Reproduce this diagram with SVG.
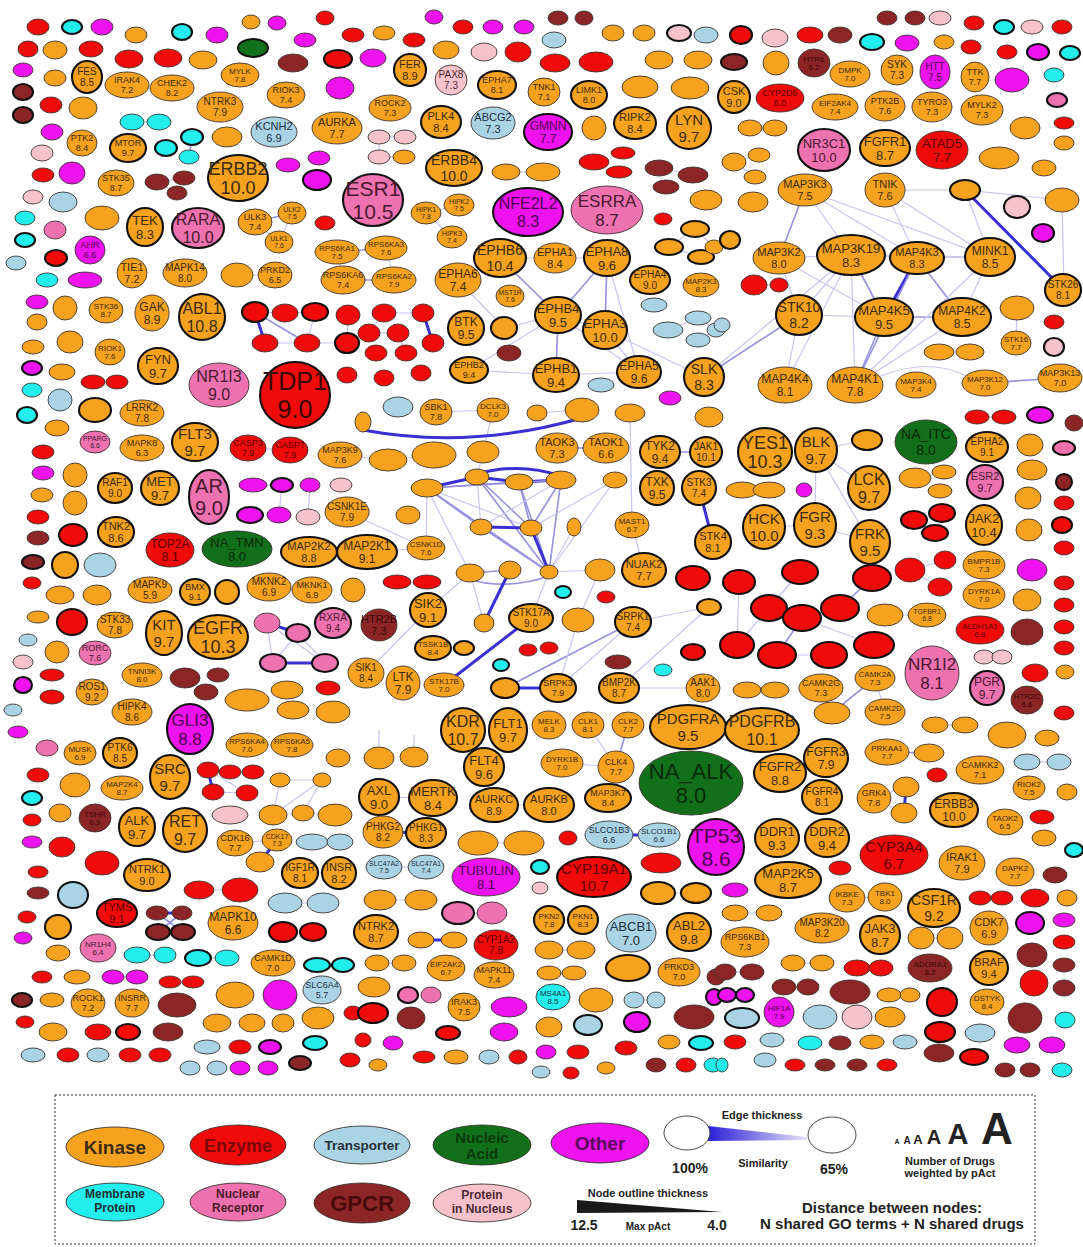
<svg xmlns="http://www.w3.org/2000/svg" width="1083" height="1247" viewBox="0 0 1083 1247">
<defs>
<style>
ellipse{stroke:#3a3530;stroke-width:0.9}
.b{stroke:#111;stroke-width:2.1}
.k{fill:#F6A21E}.e{fill:#F00A0A}.t{fill:#ABD3E6}.n{fill:#13701A}.o{fill:#EE12EE}.m{fill:#22EEEE}.r{fill:#EE72B0}.g{fill:#8C2626}.p{fill:#F7C2CC}
text{font-family:"Liberation Sans",Arial,sans-serif;text-anchor:middle;fill:#3a2c12}
.w{fill:#5a0000}.v{fill:#500050}.q{fill:#062a06}.u{fill:#4a1830}.x{fill:#1e3040}.y{fill:#3a0808}.z{fill:#4a2a30}
.c1{stroke:#c8c5ef;stroke-width:1.2;fill:none}
.c2{stroke:#9894e0;stroke-width:1.7;fill:none}
.c3{stroke:#3a2fd2;stroke-width:3;fill:none}
.lg{font-weight:bold}
</style>
<linearGradient id="eg" x1="0" y1="0" x2="1" y2="0">
<stop offset="0" stop-color="#2a1fd8"/><stop offset="1" stop-color="#e6e2f7"/>
</linearGradient>
</defs>
<rect width="1083" height="1247" fill="#ffffff"/>
<g id="connectors">
<line class="c2" x1="500" y1="258" x2="558" y2="315"/>
<line class="c2" x1="607" y1="258" x2="558" y2="315"/>
<line class="c2" x1="607" y1="258" x2="605" y2="330"/>
<line class="c1" x1="607" y1="258" x2="639" y2="372"/>
<line class="c1" x1="500" y1="258" x2="458" y2="280"/>
<line class="c1" x1="555" y1="258" x2="607" y2="258"/>
<line class="c1" x1="500" y1="258" x2="555" y2="258"/>
<line class="c2" x1="558" y1="315" x2="556" y2="375"/>
<line class="c1" x1="558" y1="315" x2="605" y2="330"/>
<line class="c1" x1="558" y1="315" x2="639" y2="372"/>
<line class="c1" x1="558" y1="315" x2="469" y2="370"/>
<line class="c1" x1="558" y1="315" x2="504" y2="328"/>
<line class="c1" x1="556" y1="375" x2="469" y2="370"/>
<line class="c1" x1="556" y1="375" x2="639" y2="372"/>
<line class="c1" x1="458" y1="280" x2="504" y2="328"/>
<line class="c1" x1="605" y1="330" x2="639" y2="372"/>
<line class="c1" x1="605" y1="330" x2="704" y2="377"/>
<line class="c2" x1="805" y1="190" x2="779" y2="258"/>
<line class="c1" x1="805" y1="190" x2="851" y2="255"/>
<line class="c1" x1="805" y1="190" x2="917" y2="258"/>
<line class="c1" x1="805" y1="190" x2="990" y2="257"/>
<line class="c1" x1="885" y1="190" x2="990" y2="257"/>
<line class="c1" x1="885" y1="190" x2="965" y2="190"/>
<line class="c1" x1="885" y1="190" x2="917" y2="258"/>
<line class="c3" x1="965" y1="190" x2="1064" y2="290"/>
<line class="c1" x1="965" y1="190" x2="1062" y2="200"/>
<line class="c1" x1="1062" y1="200" x2="1064" y2="290"/>
<line class="c1" x1="965" y1="190" x2="990" y2="257"/>
<line class="c1" x1="779" y1="258" x2="851" y2="255"/>
<line class="c1" x1="851" y1="255" x2="917" y2="258"/>
<line class="c1" x1="917" y1="258" x2="990" y2="257"/>
<line class="c1" x1="779" y1="258" x2="884" y2="317"/>
<line class="c2" x1="851" y1="255" x2="884" y2="317"/>
<line class="c3" x1="917" y1="258" x2="884" y2="317"/>
<line class="c2" x1="917" y1="258" x2="962" y2="317"/>
<line class="c2" x1="884" y1="317" x2="962" y2="317"/>
<line class="c1" x1="851" y1="255" x2="799" y2="315"/>
<line class="c1" x1="851" y1="255" x2="855" y2="385"/>
<line class="c1" x1="851" y1="255" x2="785" y2="385"/>
<line class="c1" x1="799" y1="315" x2="884" y2="317"/>
<line class="c2" x1="799" y1="315" x2="704" y2="377"/>
<line class="c1" x1="851" y1="255" x2="704" y2="377"/>
<line class="c1" x1="799" y1="315" x2="785" y2="385"/>
<line class="c2" x1="884" y1="317" x2="855" y2="385"/>
<line class="c2" x1="917" y1="258" x2="855" y2="385"/>
<line class="c1" x1="962" y1="317" x2="855" y2="385"/>
<line class="c1" x1="990" y1="257" x2="962" y2="317"/>
<line class="c1" x1="990" y1="257" x2="855" y2="385"/>
<line class="c1" x1="779" y1="258" x2="799" y2="315"/>
<line class="c1" x1="851" y1="255" x2="990" y2="257"/>
<path class="c1" d="M878,377 Q930,356 968,377"/>
<line class="c2" x1="985" y1="383" x2="1060" y2="378"/>
<line class="c1" x1="816" y1="450" x2="815" y2="525"/>
<line class="c1" x1="816" y1="450" x2="870" y2="542"/>
<line class="c1" x1="816" y1="450" x2="869" y2="488"/>
<line class="c1" x1="816" y1="450" x2="867" y2="440"/>
<line class="c1" x1="764" y1="527" x2="815" y2="525"/>
<line class="c1" x1="815" y1="525" x2="870" y2="542"/>
<line class="c1" x1="739" y1="582" x2="737" y2="645"/>
<line class="c1" x1="800" y1="572" x2="769" y2="608"/>
<line class="c1" x1="800" y1="572" x2="737" y2="645"/>
<line class="c1" x1="769" y1="608" x2="802" y2="618"/>
<line class="c2" x1="802" y1="618" x2="777" y2="655"/>
<line class="c2" x1="872" y1="578" x2="840" y2="608"/>
<line class="c1" x1="802" y1="618" x2="874" y2="645"/>
<line class="c1" x1="777" y1="655" x2="829" y2="655"/>
<line class="c1" x1="802" y1="618" x2="840" y2="608"/>
<line class="c1" x1="910" y1="570" x2="945" y2="560"/>
<line class="c1" x1="910" y1="570" x2="940" y2="587"/>
<line class="c1" x1="977" y1="417" x2="1004" y2="417"/>
<line class="c2" x1="875" y1="678" x2="832" y2="713"/>
<line class="c1" x1="821" y1="688" x2="832" y2="713"/>
<line class="c1" x1="875" y1="678" x2="885" y2="712"/>
<line class="c1" x1="747" y1="690" x2="775" y2="690"/>
<line class="c1" x1="742" y1="490" x2="769" y2="490"/>
<line class="c1" x1="885" y1="615" x2="927" y2="615"/>
<line class="c1" x1="984" y1="657" x2="1002" y2="657"/>
<line class="c3" x1="427" y1="488" x2="477" y2="477"/>
<line class="c3" x1="477" y1="477" x2="519" y2="482"/>
<line class="c3" x1="519" y1="482" x2="561" y2="480"/>
<path class="c3" d="M477,474 Q520,462 561,476"/>
<line class="c2" x1="427" y1="488" x2="561" y2="480"/>
<line class="c2" x1="427" y1="488" x2="519" y2="482"/>
<line class="c2" x1="427" y1="488" x2="481" y2="527"/>
<line class="c1" x1="427" y1="488" x2="531" y2="528"/>
<line class="c2" x1="427" y1="488" x2="549" y2="572"/>
<line class="c1" x1="477" y1="477" x2="481" y2="527"/>
<line class="c2" x1="477" y1="477" x2="531" y2="528"/>
<line class="c2" x1="477" y1="477" x2="549" y2="572"/>
<line class="c2" x1="519" y1="482" x2="531" y2="528"/>
<line class="c2" x1="519" y1="482" x2="549" y2="572"/>
<line class="c2" x1="561" y1="480" x2="531" y2="528"/>
<line class="c2" x1="561" y1="480" x2="549" y2="572"/>
<line class="c1" x1="561" y1="480" x2="481" y2="527"/>
<line class="c3" x1="481" y1="527" x2="531" y2="528"/>
<line class="c2" x1="481" y1="527" x2="549" y2="572"/>
<line class="c3" x1="531" y1="528" x2="549" y2="572"/>
<line class="c1" x1="574" y1="527" x2="549" y2="572"/>
<line class="c1" x1="615" y1="480" x2="531" y2="528"/>
<line class="c1" x1="615" y1="480" x2="549" y2="572"/>
<line class="c2" x1="470" y1="573" x2="510" y2="570"/>
<path class="c2" d="M470,580 Q510,590 549,576"/>
<line class="c1" x1="470" y1="573" x2="484" y2="623"/>
<line class="c3" x1="510" y1="570" x2="484" y2="623"/>
<line class="c1" x1="427" y1="488" x2="426" y2="548"/>
<line class="c1" x1="427" y1="488" x2="470" y2="573"/>
<line class="c1" x1="549" y1="572" x2="600" y2="570"/>
<line class="c1" x1="549" y1="572" x2="531" y2="618"/>
<line class="c1" x1="477" y1="477" x2="493" y2="410"/>
<path class="c3" d="M363,430 Q470,450 582,418"/>
<line class="c1" x1="436" y1="412" x2="493" y2="410"/>
<line class="c1" x1="537" y1="413" x2="582" y2="410"/>
<line class="c2" x1="557" y1="448" x2="606" y2="448"/>
<line class="c2" x1="660" y1="452" x2="706" y2="452"/>
<line class="c3" x1="699" y1="488" x2="713" y2="542"/>
<line class="c1" x1="388" y1="460" x2="434" y2="455"/>
<line class="c1" x1="340" y1="455" x2="388" y2="460"/>
<line class="c1" x1="347" y1="512" x2="426" y2="548"/>
<line class="c1" x1="632" y1="525" x2="644" y2="570"/>
<line class="c1" x1="630" y1="413" x2="632" y2="525"/>
<line class="c3" x1="531" y1="618" x2="444" y2="685"/>
<line class="c2" x1="633" y1="622" x2="505" y2="688"/>
<line class="c1" x1="633" y1="622" x2="558" y2="688"/>
<line class="c3" x1="505" y1="688" x2="558" y2="688"/>
<line class="c1" x1="578" y1="620" x2="558" y2="688"/>
<line class="c1" x1="428" y1="610" x2="366" y2="673"/>
<line class="c1" x1="428" y1="610" x2="470" y2="573"/>
<line class="c1" x1="433" y1="648" x2="464" y2="648"/>
<line class="c1" x1="619" y1="688" x2="703" y2="688"/>
<line class="c1" x1="633" y1="622" x2="709" y2="607"/>
<line class="c1" x1="619" y1="688" x2="709" y2="607"/>
<line class="c1" x1="600" y1="570" x2="578" y2="620"/>
<line class="c1" x1="367" y1="552" x2="426" y2="548"/>
<line class="c1" x1="367" y1="552" x2="309" y2="552"/>
<line class="c1" x1="255" y1="312" x2="285" y2="313"/>
<line class="c3" x1="255" y1="312" x2="265" y2="343"/>
<line class="c2" x1="255" y1="312" x2="307" y2="343"/>
<line class="c1" x1="265" y1="343" x2="307" y2="343"/>
<line class="c1" x1="285" y1="313" x2="315" y2="312"/>
<line class="c1" x1="307" y1="343" x2="347" y2="343"/>
<line class="c1" x1="315" y1="312" x2="307" y2="343"/>
<line class="c1" x1="348" y1="315" x2="347" y2="343"/>
<line class="c3" x1="423" y1="313" x2="433" y2="343"/>
<line class="c1" x1="384" y1="313" x2="423" y2="313"/>
<line class="c1" x1="369" y1="333" x2="398" y2="333"/>
<line class="c1" x1="398" y1="333" x2="406" y2="353"/>
<line class="c1" x1="384" y1="313" x2="369" y2="333"/>
<line class="c2" x1="255" y1="222" x2="292" y2="213"/>
<line class="c1" x1="255" y1="222" x2="279" y2="242"/>
<line class="c1" x1="292" y1="213" x2="279" y2="242"/>
<line class="c2" x1="337" y1="252" x2="386" y2="248"/>
<line class="c1" x1="337" y1="252" x2="343" y2="280"/>
<line class="c1" x1="386" y1="248" x2="394" y2="280"/>
<line class="c2" x1="343" y1="280" x2="394" y2="280"/>
<line class="c1" x1="237" y1="275" x2="275" y2="275"/>
<line class="c3" x1="267" y1="623" x2="298" y2="633"/>
<line class="c1" x1="267" y1="623" x2="273" y2="663"/>
<line class="c3" x1="273" y1="663" x2="325" y2="663"/>
<line class="c1" x1="298" y1="633" x2="325" y2="663"/>
<line class="c1" x1="298" y1="633" x2="273" y2="663"/>
<line class="c1" x1="267" y1="623" x2="325" y2="663"/>
<line class="c1" x1="253" y1="485" x2="282" y2="485"/>
<line class="c1" x1="282" y1="485" x2="279" y2="515"/>
<line class="c1" x1="310" y1="485" x2="308" y2="517"/>
<line class="c1" x1="157" y1="182" x2="184" y2="178"/>
<line class="c1" x1="157" y1="182" x2="177" y2="193"/>
<line class="c2" x1="192" y1="137" x2="189" y2="157"/>
<line class="c1" x1="132" y1="122" x2="159" y2="122"/>
<line class="c3" x1="208" y1="770" x2="213" y2="792"/>
<line class="c1" x1="208" y1="770" x2="247" y2="793"/>
<line class="c1" x1="213" y1="792" x2="247" y2="793"/>
<line class="c1" x1="230" y1="772" x2="253" y2="772"/>
<line class="c1" x1="280" y1="780" x2="322" y2="780"/>
<line class="c1" x1="280" y1="780" x2="273" y2="815"/>
<line class="c1" x1="322" y1="780" x2="273" y2="815"/>
<line class="c1" x1="303" y1="813" x2="322" y2="780"/>
<line class="c1" x1="273" y1="815" x2="303" y2="813"/>
<line class="c1" x1="303" y1="813" x2="335" y2="815"/>
<line class="c1" x1="235" y1="843" x2="277" y2="840"/>
<line class="c3" x1="277" y1="840" x2="260" y2="862"/>
<line class="c3" x1="157" y1="913" x2="182" y2="913"/>
<line class="c1" x1="158" y1="932" x2="183" y2="932"/>
<line class="c2" x1="157" y1="913" x2="183" y2="932"/>
<line class="c2" x1="182" y1="913" x2="158" y2="932"/>
<line class="c1" x1="269" y1="587" x2="312" y2="590"/>
<line class="c1" x1="300" y1="873" x2="339" y2="873"/>
<line class="c1" x1="248" y1="448" x2="290" y2="450"/>
<line class="c3" x1="609" y1="835" x2="659" y2="835"/>
<line class="c1" x1="826" y1="758" x2="822" y2="797"/>
<line class="c1" x1="874" y1="798" x2="906" y2="787"/>
<line class="c1" x1="874" y1="798" x2="904" y2="813"/>
<line class="c3" x1="906" y1="787" x2="904" y2="813"/>
<line class="c2" x1="887" y1="752" x2="929" y2="753"/>
<line class="c1" x1="847" y1="898" x2="885" y2="897"/>
<line class="c1" x1="426" y1="213" x2="459" y2="205"/>
<line class="c1" x1="426" y1="213" x2="452" y2="237"/>
<line class="c2" x1="628" y1="725" x2="616" y2="767"/>
<line class="c1" x1="588" y1="725" x2="616" y2="767"/>
<line class="c1" x1="562" y1="763" x2="616" y2="767"/>
<line class="c1" x1="494" y1="805" x2="549" y2="805"/>
<line class="c3" x1="383" y1="832" x2="426" y2="833"/>
<line class="c1" x1="379" y1="797" x2="433" y2="798"/>
<line class="c1" x1="384" y1="867" x2="426" y2="867"/>
<line class="c1" x1="478" y1="843" x2="524" y2="843"/>
<line class="c1" x1="549" y1="920" x2="583" y2="920"/>
<line class="c1" x1="380" y1="900" x2="421" y2="900"/>
<line class="c1" x1="458" y1="913" x2="492" y2="913"/>
<line class="c1" x1="658" y1="893" x2="696" y2="893"/>
<line class="c3" x1="421" y1="940" x2="454" y2="940"/>
<line class="c1" x1="549" y1="950" x2="581" y2="950"/>
<line class="c1" x1="377" y1="963" x2="404" y2="963"/>
<line class="c1" x1="549" y1="973" x2="574" y2="973"/>
<line class="c1" x1="634" y1="1000" x2="656" y2="1000"/>
<line class="c1" x1="379" y1="758" x2="379" y2="730"/>
<line class="c1" x1="414" y1="757" x2="414" y2="735"/>
<line class="c1" x1="247" y1="745" x2="292" y2="745"/>
<line class="c1" x1="285" y1="903" x2="323" y2="903"/>
<line class="c1" x1="312" y1="842" x2="340" y2="842"/>
<line class="c1" x1="283" y1="932" x2="313" y2="932"/>
<line class="c1" x1="137" y1="955" x2="165" y2="955"/>
<line class="c1" x1="198" y1="958" x2="227" y2="958"/>
<line class="c3" x1="317" y1="965" x2="343" y2="965"/>
<line class="c1" x1="113" y1="977" x2="137" y2="977"/>
<line class="c1" x1="199" y1="890" x2="240" y2="890"/>
<line class="c1" x1="93" y1="382" x2="117" y2="382"/>
<line class="c1" x1="379" y1="137" x2="405" y2="137"/>
<line class="c1" x1="379" y1="157" x2="404" y2="157"/>
<line class="c1" x1="379" y1="137" x2="379" y2="157"/>
<line class="c1" x1="506" y1="172" x2="543" y2="172"/>
<line class="c1" x1="659" y1="168" x2="693" y2="175"/>
<line class="c1" x1="695" y1="229" x2="669" y2="247"/>
<line class="c1" x1="669" y1="247" x2="701" y2="257"/>
<line class="c1" x1="695" y1="229" x2="714" y2="247"/>
<line class="c1" x1="668" y1="330" x2="698" y2="318"/>
<line class="c1" x1="698" y1="318" x2="716" y2="330"/>
<line class="c1" x1="698" y1="340" x2="716" y2="330"/>
<line class="c1" x1="750" y1="128" x2="775" y2="128"/>
<line class="c1" x1="734" y1="162" x2="759" y2="155"/>
<line class="c1" x1="734" y1="162" x2="755" y2="177"/>
<line class="c1" x1="754" y1="285" x2="779" y2="285"/>
<line class="c1" x1="939" y1="352" x2="970" y2="352"/>
<line class="c1" x1="1017" y1="308" x2="1016" y2="343"/>
<line class="c1" x1="935" y1="725" x2="965" y2="725"/>
<line class="c1" x1="1027" y1="762" x2="1059" y2="762"/>
<line class="c2" x1="857" y1="968" x2="881" y2="968"/>
<line class="c1" x1="725" y1="972" x2="752" y2="972"/>
<line class="c1" x1="784" y1="987" x2="808" y2="987"/>
<line class="c1" x1="889" y1="995" x2="910" y2="995"/>
<line class="c1" x1="727" y1="995" x2="745" y2="995"/>
<line class="c1" x1="921" y1="938" x2="950" y2="938"/>
<line class="c1" x1="735" y1="913" x2="769" y2="913"/>
<line class="c1" x1="793" y1="963" x2="822" y2="963"/>
<line class="c1" x1="980" y1="898" x2="1002" y2="898"/>
<line class="c1" x1="935" y1="533" x2="942" y2="513"/>
</g>
<g id="nodes">
<g id="n-FES"><ellipse class="k b" cx="87" cy="77" rx="15" ry="16"/><text x="87" y="75" font-size="10"><tspan x="87">FES</tspan><tspan x="87" dy="1.1em">8.5</tspan></text></g>
<g id="n-IRAK4"><ellipse class="k" cx="127" cy="85" rx="22" ry="13"/><text x="127" y="83.3" font-size="9"><tspan x="127">IRAK4</tspan><tspan x="127" dy="1.1em">7.2</tspan></text></g>
<g id="n-CHEK2"><ellipse class="k" cx="172" cy="88" rx="22" ry="13"/><text x="172" y="86.3" font-size="9"><tspan x="172">CHEK2</tspan><tspan x="172" dy="1.1em">8.2</tspan></text></g>
<g id="n-MYLK"><ellipse class="k" cx="240" cy="75" rx="19" ry="12"/><text x="240" y="73.5" font-size="8"><tspan x="240">MYLK</tspan><tspan x="240" dy="1.1em">7.8</tspan></text></g>
<g id="n-RIOK3"><ellipse class="k" cx="286" cy="95" rx="19" ry="13"/><text x="286" y="93.3" font-size="9"><tspan x="286">RIOK3</tspan><tspan x="286" dy="1.1em">7.4</tspan></text></g>
<g id="n-NTRK3"><ellipse class="k" cx="220" cy="107" rx="23" ry="15"/><text x="220" y="105" font-size="10"><tspan x="220">NTRK3</tspan><tspan x="220" dy="1.1em">7.9</tspan></text></g>
<g id="n-KCNH2"><ellipse class="t" cx="274" cy="132" rx="23" ry="15"/><text class="x" x="274" y="129.9" font-size="11"><tspan x="274">KCNH2</tspan><tspan x="274" dy="1.1em">6.9</tspan></text></g>
<g id="n-AURKA"><ellipse class="k" cx="337" cy="128" rx="25" ry="16"/><text x="337" y="125.9" font-size="11"><tspan x="337">AURKA</tspan><tspan x="337" dy="1.1em">7.7</tspan></text></g>
<g id="n-PTK2"><ellipse class="k" cx="82" cy="143" rx="15" ry="13"/><text x="82" y="141.3" font-size="9"><tspan x="82">PTK2</tspan><tspan x="82" dy="1.1em">8.4</tspan></text></g>
<g id="n-MTOR"><ellipse class="k b" cx="128" cy="148" rx="18" ry="14"/><text x="128" y="146.3" font-size="9"><tspan x="128">MTOR</tspan><tspan x="128" dy="1.1em">9.7</tspan></text></g>
<g id="n-STK35"><ellipse class="k" cx="116" cy="183" rx="18" ry="13"/><text x="116" y="181.3" font-size="9"><tspan x="116">STK35</tspan><tspan x="116" dy="1.1em">8.7</tspan></text></g>
<g id="n-ERBB2"><ellipse class="k b" cx="238" cy="178" rx="30" ry="23"/><text x="238" y="174.6" font-size="18"><tspan x="238">ERBB2</tspan><tspan x="238" dy="1.1em">10.0</tspan></text></g>
<g id="n-TEK"><ellipse class="k b" cx="145" cy="227" rx="18" ry="19"/><text x="145" y="224.5" font-size="13"><tspan x="145">TEK</tspan><tspan x="145" dy="1.1em">8.3</tspan></text></g>
<g id="n-RARA"><ellipse class="r b" cx="198" cy="228" rx="26" ry="20"/><text class="u" x="198" y="225" font-size="16"><tspan x="198">RARA</tspan><tspan x="198" dy="1.1em">10.0</tspan></text></g>
<g id="n-ULK3"><ellipse class="k" cx="255" cy="222" rx="17" ry="13"/><text x="255" y="220.3" font-size="9"><tspan x="255">ULK3</tspan><tspan x="255" dy="1.1em">7.4</tspan></text></g>
<g id="n-ULK2"><ellipse class="k" cx="292" cy="213" rx="14" ry="11"/><text x="292" y="211.7" font-size="7"><tspan x="292">ULK2</tspan><tspan x="292" dy="1.1em">7.5</tspan></text></g>
<g id="n-ULK1"><ellipse class="k" cx="279" cy="242" rx="14" ry="11"/><text x="279" y="240.7" font-size="7"><tspan x="279">ULK1</tspan><tspan x="279" dy="1.1em">7.6</tspan></text></g>
<g id="n-AHR"><ellipse class="o" cx="90" cy="250" rx="15" ry="14"/><text class="v" x="90" y="248.3" font-size="9"><tspan x="90">AHR</tspan><tspan x="90" dy="1.1em">6.6</tspan></text></g>
<g id="n-TIE1"><ellipse class="k" cx="132" cy="273" rx="15" ry="15"/><text x="132" y="270.9" font-size="11"><tspan x="132">TIE1</tspan><tspan x="132" dy="1.1em">7.2</tspan></text></g>
<g id="n-MAPK14"><ellipse class="k" cx="185" cy="273" rx="22" ry="14"/><text x="185" y="271" font-size="10"><tspan x="185">MAPK14</tspan><tspan x="185" dy="1.1em">8.0</tspan></text></g>
<g id="n-PRKD2"><ellipse class="k" cx="275" cy="275" rx="17" ry="13"/><text x="275" y="273.3" font-size="9"><tspan x="275">PRKD2</tspan><tspan x="275" dy="1.1em">6.5</tspan></text></g>
<g id="n-RPS6KA1"><ellipse class="k" cx="337" cy="252" rx="22" ry="12"/><text x="337" y="250.5" font-size="8"><tspan x="337">RPS6KA1</tspan><tspan x="337" dy="1.1em">7.5</tspan></text></g>
<g id="n-RPS6KA6"><ellipse class="k" cx="343" cy="280" rx="22" ry="14"/><text x="343" y="278.3" font-size="9"><tspan x="343">RPS6KA6</tspan><tspan x="343" dy="1.1em">7.4</tspan></text></g>
<g id="n-STK36"><ellipse class="k" cx="106" cy="310" rx="17" ry="13"/><text x="106" y="308.5" font-size="8"><tspan x="106">STK36</tspan><tspan x="106" dy="1.1em">8.7</tspan></text></g>
<g id="n-GAK"><ellipse class="k" cx="152" cy="313" rx="17" ry="18"/><text x="152" y="310.7" font-size="12"><tspan x="152">GAK</tspan><tspan x="152" dy="1.1em">8.9</tspan></text></g>
<g id="n-ABL1"><ellipse class="k b" cx="202" cy="317" rx="23" ry="23"/><text x="202" y="314" font-size="16"><tspan x="202">ABL1</tspan><tspan x="202" dy="1.1em">10.8</tspan></text></g>
<g id="n-RIOK1"><ellipse class="k" cx="110" cy="352" rx="15" ry="13"/><text x="110" y="350.5" font-size="8"><tspan x="110">RIOK1</tspan><tspan x="110" dy="1.1em">7.6</tspan></text></g>
<g id="n-FYN"><ellipse class="k b" cx="158" cy="366" rx="20" ry="18"/><text x="158" y="363.5" font-size="13"><tspan x="158">FYN</tspan><tspan x="158" dy="1.1em">9.7</tspan></text></g>
<g id="n-NR1I3"><ellipse class="r" cx="219" cy="385" rx="30" ry="22"/><text class="u" x="219" y="382" font-size="16"><tspan x="219">NR1I3</tspan><tspan x="219" dy="1.1em">9.0</tspan></text></g>
<g id="n-TDP1"><ellipse class="e b" cx="295" cy="395" rx="35" ry="33"/><text class="y" x="295" y="390.2" font-size="25"><tspan x="295">TDP1</tspan><tspan x="295" dy="1.1em">9.0</tspan></text></g>
<g id="n-LRRK2"><ellipse class="k" cx="142" cy="413" rx="22" ry="13"/><text x="142" y="411" font-size="10"><tspan x="142">LRRK2</tspan><tspan x="142" dy="1.1em">7.8</tspan></text></g>
<g id="n-PPARG"><ellipse class="r" cx="95" cy="442" rx="15" ry="11"/><text class="u" x="95" y="440.7" font-size="7"><tspan x="95">PPARG</tspan><tspan x="95" dy="1.1em">6.6</tspan></text></g>
<g id="n-MAPK8"><ellipse class="k" cx="142" cy="448" rx="22" ry="13"/><text x="142" y="446.3" font-size="9"><tspan x="142">MAPK8</tspan><tspan x="142" dy="1.1em">6.3</tspan></text></g>
<g id="n-FLT3"><ellipse class="k b" cx="195" cy="442" rx="23" ry="19"/><text x="195" y="439.1" font-size="15"><tspan x="195">FLT3</tspan><tspan x="195" dy="1.1em">9.7</tspan></text></g>
<g id="n-CASP3"><ellipse class="e" cx="248" cy="448" rx="18" ry="13"/><text class="w" x="248" y="446.3" font-size="9"><tspan x="248">CASP3</tspan><tspan x="248" dy="1.1em">7.9</tspan></text></g>
<g id="n-CASP7"><ellipse class="e" cx="290" cy="450" rx="18" ry="13"/><text class="w" x="290" y="448.3" font-size="9"><tspan x="290">CASP7</tspan><tspan x="290" dy="1.1em">7.9</tspan></text></g>
<g id="n-MAP3K9"><ellipse class="k" cx="340" cy="455" rx="22" ry="13"/><text x="340" y="453.3" font-size="9"><tspan x="340">MAP3K9</tspan><tspan x="340" dy="1.1em">7.6</tspan></text></g>
<g id="n-RAF1"><ellipse class="k b" cx="115" cy="488" rx="17" ry="15"/><text x="115" y="486" font-size="10"><tspan x="115">RAF1</tspan><tspan x="115" dy="1.1em">9.0</tspan></text></g>
<g id="n-MET"><ellipse class="k b" cx="160" cy="488" rx="19" ry="17"/><text x="160" y="485.5" font-size="13"><tspan x="160">MET</tspan><tspan x="160" dy="1.1em">9.7</tspan></text></g>
<g id="n-AR"><ellipse class="r b" cx="209" cy="497" rx="20" ry="27"/><text class="u" x="209" y="493.2" font-size="20"><tspan x="209">AR</tspan><tspan x="209" dy="1.1em">9.0</tspan></text></g>
<g id="n-CSNK1E"><ellipse class="k" cx="347" cy="512" rx="22" ry="15"/><text x="347" y="510" font-size="10"><tspan x="347">CSNK1E</tspan><tspan x="347" dy="1.1em">7.9</tspan></text></g>
<g id="n-TNK2"><ellipse class="k b" cx="116" cy="532" rx="18" ry="15"/><text x="116" y="529.9" font-size="11"><tspan x="116">TNK2</tspan><tspan x="116" dy="1.1em">8.6</tspan></text></g>
<g id="n-TOP2A"><ellipse class="e" cx="170" cy="550" rx="24" ry="17"/><text class="w" x="170" y="547.7" font-size="12"><tspan x="170">TOP2A</tspan><tspan x="170" dy="1.1em">8.1</tspan></text></g>
<g id="n-NA_TMN"><ellipse class="n" cx="237" cy="549" rx="35" ry="18"/><text class="q" x="237" y="546.5" font-size="13"><tspan x="237">NA_TMN</tspan><tspan x="237" dy="1.1em">8.0</tspan></text></g>
<g id="n-MAP2K2"><ellipse class="k b" cx="309" cy="552" rx="28" ry="15"/><text x="309" y="549.9" font-size="11"><tspan x="309">MAP2K2</tspan><tspan x="309" dy="1.1em">8.8</tspan></text></g>
<g id="n-MAP2K1"><ellipse class="k b" cx="367" cy="552" rx="30" ry="17"/><text x="367" y="549.7" font-size="12"><tspan x="367">MAP2K1</tspan><tspan x="367" dy="1.1em">9.1</tspan></text></g>
<g id="n-MAPK9"><ellipse class="k" cx="150" cy="590" rx="22" ry="13"/><text x="150" y="588" font-size="10"><tspan x="150">MAPK9</tspan><tspan x="150" dy="1.1em">5.9</tspan></text></g>
<g id="n-BMX"><ellipse class="k b" cx="195" cy="592" rx="15" ry="13"/><text x="195" y="590.3" font-size="9"><tspan x="195">BMX</tspan><tspan x="195" dy="1.1em">9.1</tspan></text></g>
<g id="n-MKNK2"><ellipse class="k" cx="269" cy="587" rx="22" ry="14"/><text x="269" y="585" font-size="10"><tspan x="269">MKNK2</tspan><tspan x="269" dy="1.1em">6.9</tspan></text></g>
<g id="n-MKNK1"><ellipse class="k" cx="312" cy="590" rx="20" ry="13"/><text x="312" y="588.3" font-size="9"><tspan x="312">MKNK1</tspan><tspan x="312" dy="1.1em">6.9</tspan></text></g>
<g id="n-STK33"><ellipse class="k" cx="115" cy="625" rx="18" ry="13"/><text x="115" y="623" font-size="10"><tspan x="115">STK33</tspan><tspan x="115" dy="1.1em">7.8</tspan></text></g>
<g id="n-KIT"><ellipse class="k b" cx="164" cy="633" rx="18" ry="22"/><text x="164" y="630.1" font-size="15"><tspan x="164">KIT</tspan><tspan x="164" dy="1.1em">9.7</tspan></text></g>
<g id="n-EGFR"><ellipse class="k b" cx="218" cy="637" rx="30" ry="22"/><text x="218" y="633.6" font-size="18"><tspan x="218">EGFR</tspan><tspan x="218" dy="1.1em">10.3</tspan></text></g>
<g id="n-RXRA"><ellipse class="r b" cx="333" cy="623" rx="18" ry="15"/><text class="u" x="333" y="621" font-size="10"><tspan x="333">RXRA</tspan><tspan x="333" dy="1.1em">9.4</tspan></text></g>
<g id="n-RORC"><ellipse class="r" cx="95" cy="653" rx="16" ry="12"/><text class="u" x="95" y="651.3" font-size="9"><tspan x="95">RORC</tspan><tspan x="95" dy="1.1em">7.6</tspan></text></g>
<g id="n-TNNI3K"><ellipse class="k" cx="142" cy="675" rx="20" ry="12"/><text x="142" y="673.5" font-size="8"><tspan x="142">TNNI3K</tspan><tspan x="142" dy="1.1em">8.0</tspan></text></g>
<g id="n-ROS1"><ellipse class="k" cx="92" cy="692" rx="16" ry="13"/><text x="92" y="690" font-size="10"><tspan x="92">ROS1</tspan><tspan x="92" dy="1.1em">9.2</tspan></text></g>
<g id="n-HIPK4"><ellipse class="k" cx="132" cy="712" rx="20" ry="13"/><text x="132" y="710" font-size="10"><tspan x="132">HIPK4</tspan><tspan x="132" dy="1.1em">8.6</tspan></text></g>
<g id="n-GLI3"><ellipse class="o b" cx="190" cy="729" rx="23" ry="25"/><text class="v" x="190" y="725.8" font-size="17"><tspan x="190">GLI3</tspan><tspan x="190" dy="1.1em">8.8</tspan></text></g>
<g id="n-HTR2B"><ellipse class="g" cx="379" cy="625" rx="18" ry="16"/><text class="y" x="379" y="622.9" font-size="11"><tspan x="379">HTR2B</tspan><tspan x="379" dy="1.1em">7.3</tspan></text></g>
<g id="n-SIK2"><ellipse class="k b" cx="428" cy="610" rx="18" ry="17"/><text x="428" y="607.5" font-size="13"><tspan x="428">SIK2</tspan><tspan x="428" dy="1.1em">9.1</tspan></text></g>
<g id="n-STK17A"><ellipse class="k b" cx="531" cy="618" rx="22" ry="14"/><text x="531" y="616" font-size="10"><tspan x="531">STK17A</tspan><tspan x="531" dy="1.1em">9.0</tspan></text></g>
<g id="n-SRPK1"><ellipse class="k b" cx="633" cy="622" rx="18" ry="15"/><text x="633" y="620" font-size="10"><tspan x="633">SRPK1</tspan><tspan x="633" dy="1.1em">7.4</tspan></text></g>
<g id="n-TSSK1B"><ellipse class="k b" cx="433" cy="648" rx="18" ry="12"/><text x="433" y="646.5" font-size="8"><tspan x="433">TSSK1B</tspan><tspan x="433" dy="1.1em">8.4</tspan></text></g>
<g id="n-NUAK2"><ellipse class="k b" cx="644" cy="570" rx="22" ry="17"/><text x="644" y="567.9" font-size="11"><tspan x="644">NUAK2</tspan><tspan x="644" dy="1.1em">7.7</tspan></text></g>
<g id="n-SIK1"><ellipse class="k" cx="366" cy="673" rx="18" ry="15"/><text x="366" y="671" font-size="10"><tspan x="366">SIK1</tspan><tspan x="366" dy="1.1em">8.4</tspan></text></g>
<g id="n-LTK"><ellipse class="k" cx="403" cy="683" rx="17" ry="17"/><text x="403" y="680.7" font-size="12"><tspan x="403">LTK</tspan><tspan x="403" dy="1.1em">7.9</tspan></text></g>
<g id="n-STK17B"><ellipse class="k" cx="444" cy="685" rx="20" ry="12"/><text x="444" y="683.5" font-size="8"><tspan x="444">STK17B</tspan><tspan x="444" dy="1.1em">7.0</tspan></text></g>
<g id="n-SRPK3"><ellipse class="k b" cx="558" cy="688" rx="18" ry="14"/><text x="558" y="686.3" font-size="9"><tspan x="558">SRPK3</tspan><tspan x="558" dy="1.1em">7.9</tspan></text></g>
<g id="n-BMP2K"><ellipse class="k b" cx="619" cy="688" rx="20" ry="15"/><text x="619" y="686" font-size="10"><tspan x="619">BMP2K</tspan><tspan x="619" dy="1.1em">8.7</tspan></text></g>
<g id="n-AAK1"><ellipse class="k" cx="703" cy="688" rx="17" ry="14"/><text x="703" y="686" font-size="10"><tspan x="703">AAK1</tspan><tspan x="703" dy="1.1em">8.0</tspan></text></g>
<g id="n-MUSK"><ellipse class="k" cx="80" cy="753" rx="16" ry="12"/><text x="80" y="751.5" font-size="8"><tspan x="80">MUSK</tspan><tspan x="80" dy="1.1em">6.9</tspan></text></g>
<g id="n-PTK6"><ellipse class="k b" cx="120" cy="753" rx="17" ry="15"/><text x="120" y="751" font-size="10"><tspan x="120">PTK6</tspan><tspan x="120" dy="1.1em">8.5</tspan></text></g>
<g id="n-RPS6KA4"><ellipse class="k" cx="247" cy="745" rx="21" ry="12"/><text x="247" y="743.5" font-size="8"><tspan x="247">RPS6KA4</tspan><tspan x="247" dy="1.1em">7.0</tspan></text></g>
<g id="n-RPS6KA5"><ellipse class="k" cx="292" cy="745" rx="21" ry="12"/><text x="292" y="743.5" font-size="8"><tspan x="292">RPS6KA5</tspan><tspan x="292" dy="1.1em">7.8</tspan></text></g>
<g id="n-SRC"><ellipse class="k b" cx="170" cy="777" rx="20" ry="22"/><text x="170" y="774.1" font-size="15"><tspan x="170">SRC</tspan><tspan x="170" dy="1.1em">9.7</tspan></text></g>
<g id="n-MAP2K4"><ellipse class="k" cx="122" cy="788" rx="21" ry="12"/><text x="122" y="786.5" font-size="8"><tspan x="122">MAP2K4</tspan><tspan x="122" dy="1.1em">8.7</tspan></text></g>
<g id="n-TSHR"><ellipse class="g" cx="95" cy="818" rx="16" ry="14"/><text class="y" x="95" y="816.5" font-size="8"><tspan x="95">TSHR</tspan><tspan x="95" dy="1.1em">6.9</tspan></text></g>
<g id="n-ALK"><ellipse class="k b" cx="137" cy="827" rx="18" ry="19"/><text x="137" y="824.5" font-size="13"><tspan x="137">ALK</tspan><tspan x="137" dy="1.1em">9.7</tspan></text></g>
<g id="n-RET"><ellipse class="k b" cx="185" cy="830" rx="22" ry="22"/><text x="185" y="827" font-size="16"><tspan x="185">RET</tspan><tspan x="185" dy="1.1em">9.7</tspan></text></g>
<g id="n-CDK16"><ellipse class="k" cx="235" cy="843" rx="18" ry="13"/><text x="235" y="841.3" font-size="9"><tspan x="235">CDK16</tspan><tspan x="235" dy="1.1em">7.7</tspan></text></g>
<g id="n-CDK17"><ellipse class="k" cx="277" cy="840" rx="15" ry="11"/><text x="277" y="838.7" font-size="7"><tspan x="277">CDK17</tspan><tspan x="277" dy="1.1em">7.3</tspan></text></g>
<g id="n-NTRK1"><ellipse class="k b" cx="147" cy="875" rx="23" ry="16"/><text x="147" y="872.9" font-size="11"><tspan x="147">NTRK1</tspan><tspan x="147" dy="1.1em">9.0</tspan></text></g>
<g id="n-IGF1R"><ellipse class="k b" cx="300" cy="873" rx="18" ry="15"/><text x="300" y="871" font-size="10"><tspan x="300">IGF1R</tspan><tspan x="300" dy="1.1em">8.1</tspan></text></g>
<g id="n-INSR"><ellipse class="k b" cx="339" cy="873" rx="17" ry="16"/><text x="339" y="870.9" font-size="11"><tspan x="339">INSR</tspan><tspan x="339" dy="1.1em">8.2</tspan></text></g>
<g id="n-TYMS"><ellipse class="e b" cx="117" cy="913" rx="20" ry="14"/><text class="w" x="117" y="910.9" font-size="11"><tspan x="117">TYMS</tspan><tspan x="117" dy="1.1em">9.1</tspan></text></g>
<g id="n-MAPK10"><ellipse class="k" cx="233" cy="923" rx="25" ry="17"/><text x="233" y="920.7" font-size="12"><tspan x="233">MAPK10</tspan><tspan x="233" dy="1.1em">6.6</tspan></text></g>
<g id="n-NR1H4"><ellipse class="r" cx="98" cy="948" rx="18" ry="14"/><text class="u" x="98" y="946.5" font-size="8"><tspan x="98">NR1H4</tspan><tspan x="98" dy="1.1em">6.4</tspan></text></g>
<g id="n-CAMK1D"><ellipse class="k" cx="273" cy="963" rx="22" ry="13"/><text x="273" y="961.3" font-size="9"><tspan x="273">CAMK1D</tspan><tspan x="273" dy="1.1em">7.0</tspan></text></g>
<g id="n-SLC6A4"><ellipse class="t" cx="322" cy="990" rx="19" ry="14"/><text class="x" x="322" y="988.3" font-size="9"><tspan x="322">SLC6A4</tspan><tspan x="322" dy="1.1em">5.7</tspan></text></g>
<g id="n-ROCK1"><ellipse class="k" cx="88" cy="1003" rx="17" ry="14"/><text x="88" y="1001.3" font-size="9"><tspan x="88">ROCK1</tspan><tspan x="88" dy="1.1em">7.2</tspan></text></g>
<g id="n-INSRR"><ellipse class="k" cx="132" cy="1003" rx="17" ry="14"/><text x="132" y="1001.3" font-size="9"><tspan x="132">INSRR</tspan><tspan x="132" dy="1.1em">7.7</tspan></text></g>
<g id="n-ESR1"><ellipse class="r b" cx="373" cy="200" rx="30" ry="26"/><text class="u" x="373" y="196" font-size="21"><tspan x="373">ESR1</tspan><tspan x="373" dy="1.1em">10.5</tspan></text></g>
<g id="n-NFE2L2"><ellipse class="o b" cx="528" cy="212" rx="35" ry="24"/><text class="v" x="528" y="209" font-size="16"><tspan x="528">NFE2L2</tspan><tspan x="528" dy="1.1em">8.3</tspan></text></g>
<g id="n-ESRRA"><ellipse class="r" cx="607" cy="210" rx="36" ry="24"/><text class="u" x="607" y="206.8" font-size="17"><tspan x="607">ESRRA</tspan><tspan x="607" dy="1.1em">8.7</tspan></text></g>
<g id="n-FER"><ellipse class="k b" cx="410" cy="70" rx="16" ry="16"/><text x="410" y="67.9" font-size="11"><tspan x="410">FER</tspan><tspan x="410" dy="1.1em">8.9</tspan></text></g>
<g id="n-PAX8"><ellipse class="p" cx="451" cy="80" rx="16" ry="15"/><text class="z" x="451" y="78" font-size="10"><tspan x="451">PAX8</tspan><tspan x="451" dy="1.1em">7.3</tspan></text></g>
<g id="n-EPHA7"><ellipse class="k b" cx="497" cy="85" rx="19" ry="14"/><text x="497" y="83.3" font-size="9"><tspan x="497">EPHA7</tspan><tspan x="497" dy="1.1em">8.1</tspan></text></g>
<g id="n-TNK1"><ellipse class="k" cx="544" cy="92" rx="16" ry="14"/><text x="544" y="90.3" font-size="9"><tspan x="544">TNK1</tspan><tspan x="544" dy="1.1em">7.1</tspan></text></g>
<g id="n-LIMK1"><ellipse class="k b" cx="589" cy="95" rx="18" ry="14"/><text x="589" y="93.3" font-size="9"><tspan x="589">LIMK1</tspan><tspan x="589" dy="1.1em">8.0</tspan></text></g>
<g id="n-ROCK2"><ellipse class="k" cx="390" cy="108" rx="21" ry="13"/><text x="390" y="106.3" font-size="9"><tspan x="390">ROCK2</tspan><tspan x="390" dy="1.1em">7.3</tspan></text></g>
<g id="n-PLK4"><ellipse class="k b" cx="441" cy="122" rx="20" ry="16"/><text x="441" y="119.9" font-size="11"><tspan x="441">PLK4</tspan><tspan x="441" dy="1.1em">8.4</tspan></text></g>
<g id="n-ABCG2"><ellipse class="t" cx="493" cy="123" rx="22" ry="16"/><text class="x" x="493" y="120.9" font-size="11"><tspan x="493">ABCG2</tspan><tspan x="493" dy="1.1em">7.3</tspan></text></g>
<g id="n-GMNN"><ellipse class="o b" cx="548" cy="132" rx="24" ry="18"/><text class="v" x="548" y="129.7" font-size="12"><tspan x="548">GMNN</tspan><tspan x="548" dy="1.1em">7.7</tspan></text></g>
<g id="n-RIPK2"><ellipse class="k b" cx="635" cy="123" rx="21" ry="16"/><text x="635" y="120.9" font-size="11"><tspan x="635">RIPK2</tspan><tspan x="635" dy="1.1em">8.4</tspan></text></g>
<g id="n-LYN"><ellipse class="k b" cx="689" cy="128" rx="22" ry="21"/><text x="689" y="125.1" font-size="15"><tspan x="689">LYN</tspan><tspan x="689" dy="1.1em">9.7</tspan></text></g>
<g id="n-ERBB4"><ellipse class="k b" cx="454" cy="168" rx="28" ry="18"/><text x="454" y="165.3" font-size="14"><tspan x="454">ERBB4</tspan><tspan x="454" dy="1.1em">10.0</tspan></text></g>
<g id="n-HIPK1"><ellipse class="k" cx="426" cy="213" rx="15" ry="11"/><text x="426" y="211.7" font-size="7"><tspan x="426">HIPK1</tspan><tspan x="426" dy="1.1em">7.8</tspan></text></g>
<g id="n-HIPK2"><ellipse class="k" cx="459" cy="205" rx="15" ry="11"/><text x="459" y="203.7" font-size="7"><tspan x="459">HIPK2</tspan><tspan x="459" dy="1.1em">7.5</tspan></text></g>
<g id="n-HIPK3"><ellipse class="k" cx="452" cy="237" rx="15" ry="11"/><text x="452" y="235.7" font-size="7"><tspan x="452">HIPK3</tspan><tspan x="452" dy="1.1em">7.4</tspan></text></g>
<g id="n-RPS6KA3"><ellipse class="k" cx="386" cy="248" rx="21" ry="12"/><text x="386" y="246.5" font-size="8"><tspan x="386">RPS6KA3</tspan><tspan x="386" dy="1.1em">7.6</tspan></text></g>
<g id="n-RPS6KA2"><ellipse class="k" cx="394" cy="280" rx="22" ry="13"/><text x="394" y="278.5" font-size="8"><tspan x="394">RPS6KA2</tspan><tspan x="394" dy="1.1em">7.9</tspan></text></g>
<g id="n-EPHA6"><ellipse class="k" cx="458" cy="280" rx="23" ry="17"/><text x="458" y="277.7" font-size="12"><tspan x="458">EPHA6</tspan><tspan x="458" dy="1.1em">7.4</tspan></text></g>
<g id="n-EPHB6"><ellipse class="k b" cx="500" cy="258" rx="26" ry="19"/><text x="500" y="255.3" font-size="14"><tspan x="500">EPHB6</tspan><tspan x="500" dy="1.1em">10.4</tspan></text></g>
<g id="n-EPHA1"><ellipse class="k" cx="555" cy="258" rx="21" ry="15"/><text x="555" y="255.9" font-size="11"><tspan x="555">EPHA1</tspan><tspan x="555" dy="1.1em">8.4</tspan></text></g>
<g id="n-EPHA8"><ellipse class="k b" cx="607" cy="258" rx="23" ry="18"/><text x="607" y="255.5" font-size="13"><tspan x="607">EPHA8</tspan><tspan x="607" dy="1.1em">9.6</tspan></text></g>
<g id="n-EPHA4"><ellipse class="k b" cx="650" cy="280" rx="20" ry="14"/><text x="650" y="278" font-size="10"><tspan x="650">EPHA4</tspan><tspan x="650" dy="1.1em">9.0</tspan></text></g>
<g id="n-MAP2K3"><ellipse class="k" cx="701" cy="285" rx="18" ry="12"/><text x="701" y="283.5" font-size="8"><tspan x="701">MAP2K3</tspan><tspan x="701" dy="1.1em">8.3</tspan></text></g>
<g id="n-MST1R"><ellipse class="k" cx="510" cy="296" rx="14" ry="11"/><text x="510" y="294.7" font-size="7"><tspan x="510">MST1R</tspan><tspan x="510" dy="1.1em">7.6</tspan></text></g>
<g id="n-EPHB4"><ellipse class="k b" cx="558" cy="315" rx="23" ry="18"/><text x="558" y="312.5" font-size="13"><tspan x="558">EPHB4</tspan><tspan x="558" dy="1.1em">9.5</tspan></text></g>
<g id="n-EPHA3"><ellipse class="k b" cx="605" cy="330" rx="22" ry="19"/><text x="605" y="327.5" font-size="13"><tspan x="605">EPHA3</tspan><tspan x="605" dy="1.1em">10.0</tspan></text></g>
<g id="n-BTK"><ellipse class="k b" cx="466" cy="328" rx="18" ry="17"/><text x="466" y="325.7" font-size="12"><tspan x="466">BTK</tspan><tspan x="466" dy="1.1em">9.5</tspan></text></g>
<g id="n-EPHB2"><ellipse class="k b" cx="469" cy="370" rx="19" ry="13"/><text x="469" y="368.3" font-size="9"><tspan x="469">EPHB2</tspan><tspan x="469" dy="1.1em">9.4</tspan></text></g>
<g id="n-EPHB1"><ellipse class="k b" cx="556" cy="375" rx="23" ry="17"/><text x="556" y="372.5" font-size="13"><tspan x="556">EPHB1</tspan><tspan x="556" dy="1.1em">9.4</tspan></text></g>
<g id="n-EPHA5"><ellipse class="k b" cx="639" cy="372" rx="22" ry="16"/><text x="639" y="369.7" font-size="12"><tspan x="639">EPHA5</tspan><tspan x="639" dy="1.1em">9.6</tspan></text></g>
<g id="n-SLK"><ellipse class="k b" cx="704" cy="377" rx="20" ry="19"/><text x="704" y="374.3" font-size="14"><tspan x="704">SLK</tspan><tspan x="704" dy="1.1em">8.3</tspan></text></g>
<g id="n-SBK1"><ellipse class="k" cx="436" cy="412" rx="16" ry="13"/><text x="436" y="410.3" font-size="9"><tspan x="436">SBK1</tspan><tspan x="436" dy="1.1em">7.8</tspan></text></g>
<g id="n-DCLK3"><ellipse class="k" cx="493" cy="410" rx="16" ry="12"/><text x="493" y="408.5" font-size="8"><tspan x="493">DCLK3</tspan><tspan x="493" dy="1.1em">7.0</tspan></text></g>
<g id="n-TAOK3"><ellipse class="k" cx="557" cy="448" rx="21" ry="15"/><text x="557" y="445.9" font-size="11"><tspan x="557">TAOK3</tspan><tspan x="557" dy="1.1em">7.3</tspan></text></g>
<g id="n-TAOK1"><ellipse class="k" cx="606" cy="448" rx="23" ry="15"/><text x="606" y="445.9" font-size="11"><tspan x="606">TAOK1</tspan><tspan x="606" dy="1.1em">6.6</tspan></text></g>
<g id="n-TYK2"><ellipse class="k b" cx="660" cy="452" rx="20" ry="16"/><text x="660" y="449.7" font-size="12"><tspan x="660">TYK2</tspan><tspan x="660" dy="1.1em">9.4</tspan></text></g>
<g id="n-JAK1"><ellipse class="k b" cx="706" cy="452" rx="16" ry="15"/><text x="706" y="450" font-size="10"><tspan x="706">JAK1</tspan><tspan x="706" dy="1.1em">10.1</tspan></text></g>
<g id="n-TXK"><ellipse class="k b" cx="657" cy="488" rx="17" ry="17"/><text x="657" y="485.7" font-size="12"><tspan x="657">TXK</tspan><tspan x="657" dy="1.1em">9.5</tspan></text></g>
<g id="n-STK3"><ellipse class="k b" cx="699" cy="488" rx="17" ry="17"/><text x="699" y="486" font-size="10"><tspan x="699">STK3</tspan><tspan x="699" dy="1.1em">7.4</tspan></text></g>
<g id="n-STK4"><ellipse class="k b" cx="713" cy="542" rx="18" ry="17"/><text x="713" y="539.9" font-size="11"><tspan x="713">STK4</tspan><tspan x="713" dy="1.1em">8.1</tspan></text></g>
<g id="n-MAST1"><ellipse class="k" cx="632" cy="525" rx="17" ry="13"/><text x="632" y="523.5" font-size="8"><tspan x="632">MAST1</tspan><tspan x="632" dy="1.1em">6.7</tspan></text></g>
<g id="n-CSNK1D"><ellipse class="k" cx="426" cy="548" rx="19" ry="12"/><text x="426" y="546.5" font-size="8"><tspan x="426">CSNK1D</tspan><tspan x="426" dy="1.1em">7.6</tspan></text></g>
<g id="n-KDR"><ellipse class="k b" cx="463" cy="730" rx="22" ry="22"/><text x="463" y="727" font-size="16"><tspan x="463">KDR</tspan><tspan x="463" dy="1.1em">10.7</tspan></text></g>
<g id="n-FLT1"><ellipse class="k b" cx="508" cy="730" rx="19" ry="22"/><text x="508" y="727.5" font-size="13"><tspan x="508">FLT1</tspan><tspan x="508" dy="1.1em">9.7</tspan></text></g>
<g id="n-MELK"><ellipse class="k" cx="549" cy="725" rx="17" ry="14"/><text x="549" y="723.5" font-size="8"><tspan x="549">MELK</tspan><tspan x="549" dy="1.1em">8.3</tspan></text></g>
<g id="n-CLK1"><ellipse class="k" cx="588" cy="725" rx="16" ry="13"/><text x="588" y="723.5" font-size="8"><tspan x="588">CLK1</tspan><tspan x="588" dy="1.1em">8.1</tspan></text></g>
<g id="n-CLK2"><ellipse class="k" cx="628" cy="725" rx="16" ry="13"/><text x="628" y="723.5" font-size="8"><tspan x="628">CLK2</tspan><tspan x="628" dy="1.1em">7.7</tspan></text></g>
<g id="n-PDGFRA"><ellipse class="k b" cx="688" cy="727" rx="38" ry="22"/><text x="688" y="724.1" font-size="15"><tspan x="688">PDGFRA</tspan><tspan x="688" dy="1.1em">9.5</tspan></text></g>
<g id="n-FLT4"><ellipse class="k b" cx="484" cy="767" rx="20" ry="19"/><text x="484" y="764.5" font-size="13"><tspan x="484">FLT4</tspan><tspan x="484" dy="1.1em">9.6</tspan></text></g>
<g id="n-DYRK1B"><ellipse class="k" cx="562" cy="763" rx="21" ry="14"/><text x="562" y="761.5" font-size="8"><tspan x="562">DYRK1B</tspan><tspan x="562" dy="1.1em">7.0</tspan></text></g>
<g id="n-CLK4"><ellipse class="k" cx="616" cy="767" rx="18" ry="16"/><text x="616" y="765.3" font-size="9"><tspan x="616">CLK4</tspan><tspan x="616" dy="1.1em">7.7</tspan></text></g>
<g id="n-NA_ALK"><ellipse class="n" cx="691" cy="783" rx="52" ry="32"/><text class="q" x="691" y="778.8" font-size="22"><tspan x="691">NA_ALK</tspan><tspan x="691" dy="1.1em">8.0</tspan></text></g>
<g id="n-AXL"><ellipse class="k b" cx="379" cy="797" rx="20" ry="18"/><text x="379" y="794.5" font-size="13"><tspan x="379">AXL</tspan><tspan x="379" dy="1.1em">9.0</tspan></text></g>
<g id="n-MERTK"><ellipse class="k b" cx="433" cy="798" rx="24" ry="18"/><text x="433" y="795.5" font-size="13"><tspan x="433">MERTK</tspan><tspan x="433" dy="1.1em">8.4</tspan></text></g>
<g id="n-AURKC"><ellipse class="k b" cx="494" cy="805" rx="24" ry="17"/><text x="494" y="802.9" font-size="11"><tspan x="494">AURKC</tspan><tspan x="494" dy="1.1em">8.9</tspan></text></g>
<g id="n-AURKB"><ellipse class="k b" cx="549" cy="805" rx="25" ry="17"/><text x="549" y="802.9" font-size="11"><tspan x="549">AURKB</tspan><tspan x="549" dy="1.1em">8.0</tspan></text></g>
<g id="n-MAP3K7"><ellipse class="k b" cx="608" cy="798" rx="23" ry="14"/><text x="608" y="796.3" font-size="9"><tspan x="608">MAP3K7</tspan><tspan x="608" dy="1.1em">8.4</tspan></text></g>
<g id="n-PHKG2"><ellipse class="k" cx="383" cy="832" rx="20" ry="16"/><text x="383" y="830" font-size="10"><tspan x="383">PHKG2</tspan><tspan x="383" dy="1.1em">8.2</tspan></text></g>
<g id="n-PHKG1"><ellipse class="k b" cx="426" cy="833" rx="20" ry="15"/><text x="426" y="831" font-size="10"><tspan x="426">PHKG1</tspan><tspan x="426" dy="1.1em">8.3</tspan></text></g>
<g id="n-SLCO1B3"><ellipse class="t" cx="609" cy="835" rx="24" ry="14"/><text class="x" x="609" y="833.3" font-size="9"><tspan x="609">SLCO1B3</tspan><tspan x="609" dy="1.1em">6.6</tspan></text></g>
<g id="n-SLCO1B1"><ellipse class="t" cx="659" cy="835" rx="21" ry="12"/><text class="x" x="659" y="833.5" font-size="8"><tspan x="659">SLCO1B1</tspan><tspan x="659" dy="1.1em">6.6</tspan></text></g>
<g id="n-TP53"><ellipse class="o b" cx="716" cy="847" rx="28" ry="28"/><text class="v" x="716" y="843" font-size="21"><tspan x="716">TP53</tspan><tspan x="716" dy="1.1em">8.6</tspan></text></g>
<g id="n-SLC47A2"><ellipse class="t" cx="384" cy="867" rx="18" ry="12"/><text class="x" x="384" y="865.7" font-size="7"><tspan x="384">SLC47A2</tspan><tspan x="384" dy="1.1em">7.5</tspan></text></g>
<g id="n-SLC47A1"><ellipse class="t" cx="426" cy="867" rx="18" ry="12"/><text class="x" x="426" y="865.7" font-size="7"><tspan x="426">SLC47A1</tspan><tspan x="426" dy="1.1em">7.4</tspan></text></g>
<g id="n-TUBULIN"><ellipse class="o" cx="486" cy="877" rx="34" ry="19"/><text class="v" x="486" y="874.5" font-size="13"><tspan x="486">TUBULIN</tspan><tspan x="486" dy="1.1em">8.1</tspan></text></g>
<g id="n-CYP19A1"><ellipse class="e b" cx="594" cy="877" rx="37" ry="20"/><text class="w" x="594" y="874.1" font-size="15"><tspan x="594">CYP19A1</tspan><tspan x="594" dy="1.1em">10.7</tspan></text></g>
<g id="n-PKN2"><ellipse class="k b" cx="549" cy="920" rx="15" ry="14"/><text x="549" y="918.5" font-size="8"><tspan x="549">PKN2</tspan><tspan x="549" dy="1.1em">7.8</tspan></text></g>
<g id="n-PKN1"><ellipse class="k b" cx="583" cy="920" rx="15" ry="14"/><text x="583" y="918.5" font-size="8"><tspan x="583">PKN1</tspan><tspan x="583" dy="1.1em">8.3</tspan></text></g>
<g id="n-ABCB1"><ellipse class="t" cx="631" cy="933" rx="25" ry="19"/><text class="x" x="631" y="930.5" font-size="13"><tspan x="631">ABCB1</tspan><tspan x="631" dy="1.1em">7.0</tspan></text></g>
<g id="n-ABL2"><ellipse class="k b" cx="689" cy="932" rx="22" ry="19"/><text x="689" y="929.5" font-size="13"><tspan x="689">ABL2</tspan><tspan x="689" dy="1.1em">9.8</tspan></text></g>
<g id="n-NTRK2"><ellipse class="k b" cx="376" cy="932" rx="22" ry="17"/><text x="376" y="929.9" font-size="11"><tspan x="376">NTRK2</tspan><tspan x="376" dy="1.1em">8.7</tspan></text></g>
<g id="n-CYP1A2"><ellipse class="e" cx="496" cy="945" rx="22" ry="15"/><text class="w" x="496" y="943" font-size="10"><tspan x="496">CYP1A2</tspan><tspan x="496" dy="1.1em">7.8</tspan></text></g>
<g id="n-EIF2AK2"><ellipse class="k" cx="446" cy="968" rx="19" ry="13"/><text x="446" y="966.5" font-size="8"><tspan x="446">EIF2AK2</tspan><tspan x="446" dy="1.1em">6.7</tspan></text></g>
<g id="n-MAPK11"><ellipse class="k" cx="494" cy="975" rx="20" ry="13"/><text x="494" y="973.3" font-size="9"><tspan x="494">MAPK11</tspan><tspan x="494" dy="1.1em">7.4</tspan></text></g>
<g id="n-PRKD3"><ellipse class="k" cx="679" cy="972" rx="21" ry="14"/><text x="679" y="970.3" font-size="9"><tspan x="679">PRKD3</tspan><tspan x="679" dy="1.1em">7.0</tspan></text></g>
<g id="n-IRAK3"><ellipse class="k" cx="464" cy="1007" rx="16" ry="14"/><text x="464" y="1005.3" font-size="9"><tspan x="464">IRAK3</tspan><tspan x="464" dy="1.1em">7.5</tspan></text></g>
<g id="n-MS4A1"><ellipse class="m" cx="553" cy="997" rx="17" ry="13"/><text class="x" x="553" y="995.5" font-size="8"><tspan x="553">MS4A1</tspan><tspan x="553" dy="1.1em">8.5</tspan></text></g>
<g id="n-PDGFRB"><ellipse class="k b" cx="762" cy="730" rx="37" ry="22"/><text x="762" y="727" font-size="16"><tspan x="762">PDGFRB</tspan><tspan x="762" dy="1.1em">10.1</tspan></text></g>
<g id="n-FGFR3"><ellipse class="k b" cx="826" cy="758" rx="22" ry="19"/><text x="826" y="755.7" font-size="12"><tspan x="826">FGFR3</tspan><tspan x="826" dy="1.1em">7.9</tspan></text></g>
<g id="n-PRKAA1"><ellipse class="k" cx="887" cy="752" rx="22" ry="13"/><text x="887" y="750.5" font-size="8"><tspan x="887">PRKAA1</tspan><tspan x="887" dy="1.1em">7.7</tspan></text></g>
<g id="n-FGFR2"><ellipse class="k b" cx="780" cy="773" rx="26" ry="19"/><text x="780" y="770.5" font-size="13"><tspan x="780">FGFR2</tspan><tspan x="780" dy="1.1em">8.8</tspan></text></g>
<g id="n-CAMKK2"><ellipse class="k" cx="980" cy="770" rx="24" ry="14"/><text x="980" y="768.3" font-size="9"><tspan x="980">CAMKK2</tspan><tspan x="980" dy="1.1em">7.1</tspan></text></g>
<g id="n-FGFR4"><ellipse class="k b" cx="822" cy="797" rx="20" ry="17"/><text x="822" y="795" font-size="10"><tspan x="822">FGFR4</tspan><tspan x="822" dy="1.1em">8.1</tspan></text></g>
<g id="n-GRK4"><ellipse class="k" cx="874" cy="798" rx="17" ry="15"/><text x="874" y="796.3" font-size="9"><tspan x="874">GRK4</tspan><tspan x="874" dy="1.1em">7.8</tspan></text></g>
<g id="n-ERBB3"><ellipse class="k b" cx="954" cy="810" rx="24" ry="17"/><text x="954" y="807.7" font-size="12"><tspan x="954">ERBB3</tspan><tspan x="954" dy="1.1em">10.0</tspan></text></g>
<g id="n-RIOK2"><ellipse class="k" cx="1029" cy="788" rx="16" ry="12"/><text x="1029" y="786.5" font-size="8"><tspan x="1029">RIOK2</tspan><tspan x="1029" dy="1.1em">7.5</tspan></text></g>
<g id="n-TAOK2"><ellipse class="k" cx="1005" cy="822" rx="18" ry="13"/><text x="1005" y="820.5" font-size="8"><tspan x="1005">TAOK2</tspan><tspan x="1005" dy="1.1em">6.5</tspan></text></g>
<g id="n-DDR1"><ellipse class="k b" cx="777" cy="838" rx="22" ry="19"/><text x="777" y="835.5" font-size="13"><tspan x="777">DDR1</tspan><tspan x="777" dy="1.1em">9.3</tspan></text></g>
<g id="n-DDR2"><ellipse class="k b" cx="827" cy="838" rx="22" ry="19"/><text x="827" y="835.5" font-size="13"><tspan x="827">DDR2</tspan><tspan x="827" dy="1.1em">9.4</tspan></text></g>
<g id="n-CYP3A4"><ellipse class="e" cx="894" cy="855" rx="34" ry="20"/><text class="w" x="894" y="852.1" font-size="15"><tspan x="894">CYP3A4</tspan><tspan x="894" dy="1.1em">6.7</tspan></text></g>
<g id="n-IRAK1"><ellipse class="k" cx="962" cy="863" rx="23" ry="17"/><text x="962" y="860.9" font-size="11"><tspan x="962">IRAK1</tspan><tspan x="962" dy="1.1em">7.9</tspan></text></g>
<g id="n-DAPK2"><ellipse class="k" cx="1015" cy="872" rx="19" ry="14"/><text x="1015" y="870.5" font-size="8"><tspan x="1015">DAPK2</tspan><tspan x="1015" dy="1.1em">7.7</tspan></text></g>
<g id="n-MAP2K5"><ellipse class="k b" cx="788" cy="880" rx="33" ry="18"/><text x="788" y="877.5" font-size="13"><tspan x="788">MAP2K5</tspan><tspan x="788" dy="1.1em">8.7</tspan></text></g>
<g id="n-IKBKE"><ellipse class="k" cx="847" cy="898" rx="18" ry="14"/><text x="847" y="896.5" font-size="8"><tspan x="847">IKBKE</tspan><tspan x="847" dy="1.1em">7.3</tspan></text></g>
<g id="n-TBK1"><ellipse class="k" cx="885" cy="897" rx="17" ry="14"/><text x="885" y="895.5" font-size="8"><tspan x="885">TBK1</tspan><tspan x="885" dy="1.1em">8.0</tspan></text></g>
<g id="n-CSF1R"><ellipse class="k b" cx="934" cy="908" rx="26" ry="19"/><text x="934" y="905.3" font-size="14"><tspan x="934">CSF1R</tspan><tspan x="934" dy="1.1em">9.2</tspan></text></g>
<g id="n-MAP3K20"><ellipse class="k" cx="822" cy="928" rx="27" ry="15"/><text x="822" y="926" font-size="10"><tspan x="822">MAP3K20</tspan><tspan x="822" dy="1.1em">8.2</tspan></text></g>
<g id="n-JAK3"><ellipse class="k b" cx="880" cy="935" rx="20" ry="19"/><text x="880" y="932.5" font-size="13"><tspan x="880">JAK3</tspan><tspan x="880" dy="1.1em">8.7</tspan></text></g>
<g id="n-CDK7"><ellipse class="k" cx="989" cy="928" rx="19" ry="17"/><text x="989" y="925.9" font-size="11"><tspan x="989">CDK7</tspan><tspan x="989" dy="1.1em">6.9</tspan></text></g>
<g id="n-RPS6KB1"><ellipse class="k" cx="745" cy="942" rx="24" ry="15"/><text x="745" y="940.3" font-size="9"><tspan x="745">RPS6KB1</tspan><tspan x="745" dy="1.1em">7.3</tspan></text></g>
<g id="n-ADORA3"><ellipse class="g" cx="930" cy="968" rx="22" ry="14"/><text class="y" x="930" y="966.5" font-size="8"><tspan x="930">ADORA3</tspan><tspan x="930" dy="1.1em">8.2</tspan></text></g>
<g id="n-BRAF"><ellipse class="k b" cx="989" cy="968" rx="19" ry="17"/><text x="989" y="965.9" font-size="11"><tspan x="989">BRAF</tspan><tspan x="989" dy="1.1em">9.4</tspan></text></g>
<g id="n-DSTYK"><ellipse class="k" cx="987" cy="1002" rx="17" ry="13"/><text x="987" y="1000.5" font-size="8"><tspan x="987">DSTYK</tspan><tspan x="987" dy="1.1em">8.4</tspan></text></g>
<g id="n-HIF1A"><ellipse class="o" cx="779" cy="1012" rx="15" ry="15"/><text class="v" x="779" y="1010.5" font-size="8"><tspan x="779">HIF1A</tspan><tspan x="779" dy="1.1em">7.9</tspan></text></g>
<g id="n-DMPK"><ellipse class="k" cx="850" cy="74" rx="20" ry="13"/><text x="850" y="72.5" font-size="8"><tspan x="850">DMPK</tspan><tspan x="850" dy="1.1em">7.0</tspan></text></g>
<g id="n-SYK"><ellipse class="k" cx="897" cy="70" rx="16" ry="15"/><text x="897" y="68" font-size="10"><tspan x="897">SYK</tspan><tspan x="897" dy="1.1em">7.3</tspan></text></g>
<g id="n-HTT"><ellipse class="o" cx="935" cy="72" rx="15" ry="17"/><text class="v" x="935" y="70" font-size="10"><tspan x="935">HTT</tspan><tspan x="935" dy="1.1em">7.5</tspan></text></g>
<g id="n-TTK"><ellipse class="k" cx="975" cy="77" rx="14" ry="15"/><text x="975" y="75.3" font-size="9"><tspan x="975">TTK</tspan><tspan x="975" dy="1.1em">7.7</tspan></text></g>
<g id="n-HTR6"><ellipse class="g" cx="814" cy="63" rx="16" ry="14"/><text class="y" x="814" y="61.5" font-size="8"><tspan x="814">HTR6</tspan><tspan x="814" dy="1.1em">6.2</tspan></text></g>
<g id="n-CSK"><ellipse class="k b" cx="734" cy="97" rx="16" ry="16"/><text x="734" y="94.9" font-size="11"><tspan x="734">CSK</tspan><tspan x="734" dy="1.1em">9.0</tspan></text></g>
<g id="n-CYP2D6"><ellipse class="e" cx="780" cy="98" rx="24" ry="14"/><text class="w" x="780" y="96.3" font-size="9"><tspan x="780">CYP2D6</tspan><tspan x="780" dy="1.1em">6.0</tspan></text></g>
<g id="n-EIF2AK4"><ellipse class="k" cx="835" cy="107" rx="23" ry="13"/><text x="835" y="105.5" font-size="8"><tspan x="835">EIF2AK4</tspan><tspan x="835" dy="1.1em">7.4</tspan></text></g>
<g id="n-PTK2B"><ellipse class="k" cx="885" cy="106" rx="20" ry="15"/><text x="885" y="104.3" font-size="9"><tspan x="885">PTK2B</tspan><tspan x="885" dy="1.1em">7.6</tspan></text></g>
<g id="n-TYRO3"><ellipse class="k" cx="932" cy="107" rx="20" ry="15"/><text x="932" y="105.3" font-size="9"><tspan x="932">TYRO3</tspan><tspan x="932" dy="1.1em">7.3</tspan></text></g>
<g id="n-MYLK2"><ellipse class="k" cx="982" cy="110" rx="21" ry="15"/><text x="982" y="108.3" font-size="9"><tspan x="982">MYLK2</tspan><tspan x="982" dy="1.1em">7.3</tspan></text></g>
<g id="n-NR3C1"><ellipse class="r b" cx="824" cy="150" rx="26" ry="21"/><text class="u" x="824" y="147.5" font-size="13"><tspan x="824">NR3C1</tspan><tspan x="824" dy="1.1em">10.0</tspan></text></g>
<g id="n-FGFR1"><ellipse class="k b" cx="885" cy="148" rx="25" ry="18"/><text x="885" y="145.5" font-size="13"><tspan x="885">FGFR1</tspan><tspan x="885" dy="1.1em">8.7</tspan></text></g>
<g id="n-ATAD5"><ellipse class="e" cx="942" cy="150" rx="26" ry="19"/><text class="w" x="942" y="147.5" font-size="13"><tspan x="942">ATAD5</tspan><tspan x="942" dy="1.1em">7.7</tspan></text></g>
<g id="n-MAP3K3"><ellipse class="k" cx="805" cy="190" rx="27" ry="16"/><text x="805" y="187.9" font-size="11"><tspan x="805">MAP3K3</tspan><tspan x="805" dy="1.1em">7.5</tspan></text></g>
<g id="n-TNIK"><ellipse class="k" cx="885" cy="190" rx="20" ry="17"/><text x="885" y="187.9" font-size="11"><tspan x="885">TNIK</tspan><tspan x="885" dy="1.1em">7.6</tspan></text></g>
<g id="n-MAP3K2"><ellipse class="k" cx="779" cy="258" rx="26" ry="16"/><text x="779" y="255.9" font-size="11"><tspan x="779">MAP3K2</tspan><tspan x="779" dy="1.1em">8.0</tspan></text></g>
<g id="n-MAP3K19"><ellipse class="k b" cx="851" cy="255" rx="34" ry="20"/><text x="851" y="252.5" font-size="13"><tspan x="851">MAP3K19</tspan><tspan x="851" dy="1.1em">8.3</tspan></text></g>
<g id="n-MAP4K3"><ellipse class="k b" cx="917" cy="258" rx="27" ry="16"/><text x="917" y="255.9" font-size="11"><tspan x="917">MAP4K3</tspan><tspan x="917" dy="1.1em">8.3</tspan></text></g>
<g id="n-MINK1"><ellipse class="k b" cx="990" cy="257" rx="25" ry="19"/><text x="990" y="254.7" font-size="12"><tspan x="990">MINK1</tspan><tspan x="990" dy="1.1em">8.5</tspan></text></g>
<g id="n-STK26"><ellipse class="k b" cx="1063" cy="290" rx="18" ry="16"/><text x="1063" y="288" font-size="10"><tspan x="1063">STK26</tspan><tspan x="1063" dy="1.1em">8.1</tspan></text></g>
<g id="n-STK10"><ellipse class="k b" cx="799" cy="315" rx="23" ry="20"/><text x="799" y="312.3" font-size="14"><tspan x="799">STK10</tspan><tspan x="799" dy="1.1em">8.2</tspan></text></g>
<g id="n-MAP4K5"><ellipse class="k b" cx="884" cy="317" rx="29" ry="19"/><text x="884" y="314.5" font-size="13"><tspan x="884">MAP4K5</tspan><tspan x="884" dy="1.1em">9.5</tspan></text></g>
<g id="n-MAP4K2"><ellipse class="k b" cx="962" cy="317" rx="29" ry="19"/><text x="962" y="314.7" font-size="12"><tspan x="962">MAP4K2</tspan><tspan x="962" dy="1.1em">8.5</tspan></text></g>
<g id="n-STK16"><ellipse class="k" cx="1016" cy="343" rx="15" ry="12"/><text x="1016" y="341.5" font-size="8"><tspan x="1016">STK16</tspan><tspan x="1016" dy="1.1em">7.7</tspan></text></g>
<g id="n-MAP4K4"><ellipse class="k" cx="785" cy="385" rx="27" ry="18"/><text x="785" y="382.7" font-size="12"><tspan x="785">MAP4K4</tspan><tspan x="785" dy="1.1em">8.1</tspan></text></g>
<g id="n-MAP4K1"><ellipse class="k" cx="855" cy="385" rx="28" ry="18"/><text x="855" y="382.7" font-size="12"><tspan x="855">MAP4K1</tspan><tspan x="855" dy="1.1em">7.8</tspan></text></g>
<g id="n-MAP3K4"><ellipse class="k" cx="916" cy="385" rx="20" ry="13"/><text x="916" y="383.5" font-size="8"><tspan x="916">MAP3K4</tspan><tspan x="916" dy="1.1em">7.4</tspan></text></g>
<g id="n-MAP3K12"><ellipse class="k" cx="985" cy="383" rx="23" ry="13"/><text x="985" y="381.5" font-size="8"><tspan x="985">MAP3K12</tspan><tspan x="985" dy="1.1em">7.0</tspan></text></g>
<g id="n-MAP3K13"><ellipse class="k" cx="1060" cy="378" rx="22" ry="14"/><text x="1060" y="376.3" font-size="9"><tspan x="1060">MAP3K13</tspan><tspan x="1060" dy="1.1em">7.0</tspan></text></g>
<g id="n-YES1"><ellipse class="k b" cx="765" cy="452" rx="27" ry="24"/><text x="765" y="448.6" font-size="18"><tspan x="765">YES1</tspan><tspan x="765" dy="1.1em">10.3</tspan></text></g>
<g id="n-BLK"><ellipse class="k b" cx="816" cy="450" rx="21" ry="22"/><text x="816" y="447.1" font-size="15"><tspan x="816">BLK</tspan><tspan x="816" dy="1.1em">9.7</tspan></text></g>
<g id="n-NA_ITC"><ellipse class="n" cx="926" cy="442" rx="31" ry="22"/><text class="q" x="926" y="439.3" font-size="14"><tspan x="926">NA_ITC</tspan><tspan x="926" dy="1.1em">8.0</tspan></text></g>
<g id="n-EPHA2"><ellipse class="k b" cx="987" cy="447" rx="21" ry="15"/><text x="987" y="445" font-size="10"><tspan x="987">EPHA2</tspan><tspan x="987" dy="1.1em">9.1</tspan></text></g>
<g id="n-LCK"><ellipse class="k b" cx="869" cy="488" rx="21" ry="22"/><text x="869" y="485" font-size="16"><tspan x="869">LCK</tspan><tspan x="869" dy="1.1em">9.7</tspan></text></g>
<g id="n-ESR2"><ellipse class="r b" cx="985" cy="482" rx="18" ry="17"/><text class="u" x="985" y="479.9" font-size="11"><tspan x="985">ESR2</tspan><tspan x="985" dy="1.1em">9.7</tspan></text></g>
<g id="n-HCK"><ellipse class="k b" cx="764" cy="527" rx="21" ry="22"/><text x="764" y="524.1" font-size="15"><tspan x="764">HCK</tspan><tspan x="764" dy="1.1em">10.0</tspan></text></g>
<g id="n-FGR"><ellipse class="k b" cx="815" cy="525" rx="21" ry="22"/><text x="815" y="522.1" font-size="15"><tspan x="815">FGR</tspan><tspan x="815" dy="1.1em">9.3</tspan></text></g>
<g id="n-FRK"><ellipse class="k b" cx="870" cy="542" rx="20" ry="22"/><text x="870" y="539.1" font-size="15"><tspan x="870">FRK</tspan><tspan x="870" dy="1.1em">9.5</tspan></text></g>
<g id="n-JAK2"><ellipse class="k b" cx="984" cy="525" rx="18" ry="20"/><text x="984" y="522.5" font-size="13"><tspan x="984">JAK2</tspan><tspan x="984" dy="1.1em">10.4</tspan></text></g>
<g id="n-BMPR1B"><ellipse class="k" cx="984" cy="565" rx="21" ry="14"/><text x="984" y="563.5" font-size="8"><tspan x="984">BMPR1B</tspan><tspan x="984" dy="1.1em">7.3</tspan></text></g>
<g id="n-DYRK1A"><ellipse class="k" cx="984" cy="595" rx="21" ry="14"/><text x="984" y="593.5" font-size="8"><tspan x="984">DYRK1A</tspan><tspan x="984" dy="1.1em">7.0</tspan></text></g>
<g id="n-ALDH1A1"><ellipse class="e" cx="980" cy="630" rx="24" ry="14"/><text class="w" x="980" y="628.5" font-size="8"><tspan x="980">ALDH1A1</tspan><tspan x="980" dy="1.1em">6.8</tspan></text></g>
<g id="n-NR1I2"><ellipse class="r" cx="932" cy="673" rx="27" ry="27"/><text class="u" x="932" y="669.8" font-size="17"><tspan x="932">NR1I2</tspan><tspan x="932" dy="1.1em">8.1</tspan></text></g>
<g id="n-PGR"><ellipse class="r b" cx="987" cy="688" rx="17" ry="17"/><text class="u" x="987" y="685.7" font-size="12"><tspan x="987">PGR</tspan><tspan x="987" dy="1.1em">9.7</tspan></text></g>
<g id="n-HTR2C"><ellipse class="g" cx="1027" cy="700" rx="16" ry="14"/><text class="y" x="1027" y="698.5" font-size="8"><tspan x="1027">HTR2C</tspan><tspan x="1027" dy="1.1em">6.6</tspan></text></g>
<g id="n-CAMK2G"><ellipse class="k" cx="821" cy="688" rx="22" ry="14"/><text x="821" y="686.3" font-size="9"><tspan x="821">CAMK2G</tspan><tspan x="821" dy="1.1em">7.3</tspan></text></g>
<g id="n-CAMK2A"><ellipse class="k" cx="875" cy="678" rx="20" ry="13"/><text x="875" y="676.5" font-size="8"><tspan x="875">CAMK2A</tspan><tspan x="875" dy="1.1em">7.3</tspan></text></g>
<g id="n-CAMK2D"><ellipse class="k" cx="885" cy="712" rx="20" ry="13"/><text x="885" y="710.5" font-size="8"><tspan x="885">CAMK2D</tspan><tspan x="885" dy="1.1em">7.5</tspan></text></g>
<g id="n-TGFBR1"><ellipse class="k" cx="927" cy="615" rx="19" ry="12"/><text x="927" y="613.7" font-size="7"><tspan x="927">TGFBR1</tspan><tspan x="927" dy="1.1em">6.8</tspan></text></g>
<g id="s1"><ellipse class="e" cx="38" cy="27" rx="11" ry="8"/></g>
<g id="s2"><ellipse class="m b" cx="72" cy="27" rx="10" ry="7"/></g>
<g id="s3"><ellipse class="o" cx="102" cy="27" rx="11" ry="8"/></g>
<g id="s4"><ellipse class="k" cx="136" cy="35" rx="11" ry="8"/></g>
<g id="s5"><ellipse class="m b" cx="182" cy="32" rx="10" ry="8"/></g>
<g id="s6"><ellipse class="o" cx="217" cy="35" rx="11" ry="8"/></g>
<g id="s7"><ellipse class="k" cx="251" cy="22" rx="9" ry="7"/></g>
<g id="s8"><ellipse class="o" cx="277" cy="23" rx="9" ry="7"/></g>
<g id="s9"><ellipse class="o" cx="305" cy="40" rx="11" ry="7"/></g>
<g id="s10"><ellipse class="e" cx="325" cy="18" rx="9" ry="7"/></g>
<g id="s11"><ellipse class="e" cx="353" cy="35" rx="11" ry="7"/></g>
<g id="s12"><ellipse class="e" cx="28" cy="49" rx="10" ry="8"/></g>
<g id="s13"><ellipse class="k" cx="55" cy="50" rx="12" ry="9"/></g>
<g id="s14"><ellipse class="e" cx="91" cy="49" rx="12" ry="8"/></g>
<g id="s15"><ellipse class="e" cx="129" cy="59" rx="14" ry="9"/></g>
<g id="s16"><ellipse class="e" cx="168" cy="58" rx="14" ry="9"/></g>
<g id="s17"><ellipse class="k" cx="203" cy="60" rx="14" ry="9"/></g>
<g id="s18"><ellipse class="n b" cx="253" cy="48" rx="15" ry="9"/></g>
<g id="s19"><ellipse class="g" cx="293" cy="63" rx="15" ry="9"/></g>
<g id="s20"><ellipse class="e b" cx="338" cy="59" rx="14" ry="9"/></g>
<g id="s21"><ellipse class="o" cx="23" cy="70" rx="10" ry="7"/></g>
<g id="s22"><ellipse class="k" cx="55" cy="78" rx="11" ry="8"/></g>
<g id="s23"><ellipse class="g b" cx="23" cy="92" rx="10" ry="8"/></g>
<g id="s24"><ellipse class="g b" cx="23" cy="115" rx="10" ry="8"/></g>
<g id="s25"><ellipse class="e" cx="51" cy="105" rx="11" ry="8"/></g>
<g id="s26"><ellipse class="k" cx="83" cy="108" rx="14" ry="11"/></g>
<g id="s27"><ellipse class="m" cx="132" cy="122" rx="12" ry="8"/></g>
<g id="s28"><ellipse class="m" cx="159" cy="122" rx="12" ry="8"/></g>
<g id="s29"><ellipse class="o" cx="52" cy="132" rx="11" ry="8"/></g>
<g id="s30"><ellipse class="p" cx="42" cy="153" rx="11" ry="8"/></g>
<g id="s31"><ellipse class="e" cx="43" cy="175" rx="11" ry="7"/></g>
<g id="s32"><ellipse class="o" cx="72" cy="173" rx="13" ry="11"/></g>
<g id="s33"><ellipse class="g" cx="157" cy="182" rx="12" ry="8"/></g>
<g id="s34"><ellipse class="g" cx="184" cy="178" rx="11" ry="7"/></g>
<g id="s35"><ellipse class="g" cx="177" cy="193" rx="10" ry="7"/></g>
<g id="s36"><ellipse class="o" cx="288" cy="165" rx="12" ry="7"/></g>
<g id="s37"><ellipse class="o" cx="319" cy="158" rx="11" ry="7"/></g>
<g id="s38"><ellipse class="o b" cx="317" cy="180" rx="14" ry="10"/></g>
<g id="s39"><ellipse class="o" cx="340" cy="88" rx="14" ry="11"/></g>
<g id="s40"><ellipse class="m b" cx="166" cy="148" rx="11" ry="8"/></g>
<g id="s41"><ellipse class="m b" cx="192" cy="137" rx="11" ry="8"/></g>
<g id="s42"><ellipse class="m" cx="189" cy="157" rx="10" ry="7"/></g>
<g id="s43"><ellipse class="k" cx="227" cy="137" rx="15" ry="10"/></g>
<g id="s44"><ellipse class="p" cx="33" cy="197" rx="10" ry="7"/></g>
<g id="s45"><ellipse class="t" cx="63" cy="202" rx="14" ry="10"/></g>
<g id="s46"><ellipse class="k" cx="102" cy="218" rx="17" ry="12"/></g>
<g id="s47"><ellipse class="e" cx="325" cy="223" rx="10" ry="7"/></g>
<g id="s48"><ellipse class="m" cx="25" cy="218" rx="10" ry="7"/></g>
<g id="s49"><ellipse class="r" cx="55" cy="230" rx="11" ry="9"/></g>
<g id="s50"><ellipse class="m b" cx="25" cy="240" rx="10" ry="7"/></g>
<g id="s51"><ellipse class="t" cx="16" cy="263" rx="10" ry="7"/></g>
<g id="s52"><ellipse class="e b" cx="56" cy="258" rx="11" ry="8"/></g>
<g id="s53"><ellipse class="m" cx="47" cy="280" rx="11" ry="7"/></g>
<g id="s54"><ellipse class="o" cx="85" cy="280" rx="17" ry="8"/></g>
<g id="s55"><ellipse class="o" cx="37" cy="302" rx="11" ry="7"/></g>
<g id="s56"><ellipse class="k" cx="65" cy="308" rx="12" ry="12"/></g>
<g id="s57"><ellipse class="k" cx="37" cy="322" rx="10" ry="8"/></g>
<g id="s58"><ellipse class="k" cx="33" cy="347" rx="11" ry="7"/></g>
<g id="s59"><ellipse class="k" cx="70" cy="342" rx="13" ry="11"/></g>
<g id="s60"><ellipse class="k" cx="237" cy="275" rx="16" ry="12"/></g>
<g id="s61"><ellipse class="e b" cx="255" cy="312" rx="13" ry="10"/></g>
<g id="s62"><ellipse class="e" cx="285" cy="313" rx="13" ry="9"/></g>
<g id="s63"><ellipse class="e b" cx="315" cy="312" rx="13" ry="9"/></g>
<g id="s64"><ellipse class="e" cx="348" cy="315" rx="12" ry="10"/></g>
<g id="s65"><ellipse class="e" cx="265" cy="343" rx="13" ry="9"/></g>
<g id="s66"><ellipse class="e" cx="307" cy="343" rx="13" ry="9"/></g>
<g id="s67"><ellipse class="e b" cx="347" cy="343" rx="12" ry="10"/></g>
<g id="s68"><ellipse class="e" cx="384" cy="313" rx="12" ry="9"/></g>
<g id="s69"><ellipse class="e" cx="423" cy="313" rx="11" ry="9"/></g>
<g id="s70"><ellipse class="e" cx="369" cy="333" rx="11" ry="9"/></g>
<g id="s71"><ellipse class="e" cx="398" cy="333" rx="11" ry="9"/></g>
<g id="s72"><ellipse class="e" cx="433" cy="343" rx="11" ry="9"/></g>
<g id="s73"><ellipse class="e" cx="376" cy="353" rx="11" ry="8"/></g>
<g id="s74"><ellipse class="e" cx="406" cy="353" rx="11" ry="8"/></g>
<g id="s75"><ellipse class="g" cx="509" cy="353" rx="12" ry="8"/></g>
<g id="s76"><ellipse class="o b" cx="32" cy="368" rx="10" ry="7"/></g>
<g id="s77"><ellipse class="k" cx="62" cy="372" rx="13" ry="8"/></g>
<g id="s78"><ellipse class="e" cx="93" cy="382" rx="12" ry="7"/></g>
<g id="s79"><ellipse class="e" cx="117" cy="382" rx="11" ry="7"/></g>
<g id="s80"><ellipse class="e" cx="347" cy="375" rx="10" ry="8"/></g>
<g id="s81"><ellipse class="m" cx="32" cy="390" rx="10" ry="7"/></g>
<g id="s82"><ellipse class="t" cx="60" cy="400" rx="12" ry="11"/></g>
<g id="s83"><ellipse class="m b" cx="27" cy="415" rx="10" ry="8"/></g>
<g id="s84"><ellipse class="k b" cx="95" cy="410" rx="16" ry="12"/></g>
<g id="s85"><ellipse class="k" cx="57" cy="428" rx="12" ry="8"/></g>
<g id="s86"><ellipse class="e" cx="43" cy="452" rx="11" ry="7"/></g>
<g id="s87"><ellipse class="o" cx="43" cy="473" rx="11" ry="7"/></g>
<g id="s88"><ellipse class="k" cx="75" cy="475" rx="12" ry="12"/></g>
<g id="s89"><ellipse class="o" cx="253" cy="485" rx="14" ry="7"/></g>
<g id="s90"><ellipse class="o b" cx="282" cy="485" rx="11" ry="7"/></g>
<g id="s91"><ellipse class="o" cx="310" cy="485" rx="10" ry="7"/></g>
<g id="s92"><ellipse class="o b" cx="250" cy="515" rx="13" ry="8"/></g>
<g id="s93"><ellipse class="o" cx="279" cy="515" rx="12" ry="8"/></g>
<g id="s94"><ellipse class="p" cx="308" cy="517" rx="12" ry="8"/></g>
<g id="s95"><ellipse class="p" cx="341" cy="485" rx="11" ry="7"/></g>
<g id="s96"><ellipse class="k" cx="42" cy="495" rx="11" ry="7"/></g>
<g id="s97"><ellipse class="k" cx="75" cy="503" rx="12" ry="12"/></g>
<g id="s98"><ellipse class="e" cx="38" cy="517" rx="11" ry="7"/></g>
<g id="s99"><ellipse class="g" cx="38" cy="538" rx="11" ry="7"/></g>
<g id="s100"><ellipse class="e b" cx="73" cy="535" rx="14" ry="11"/></g>
<g id="s101"><ellipse class="g b" cx="33" cy="562" rx="11" ry="7"/></g>
<g id="s102"><ellipse class="k b" cx="65" cy="565" rx="13" ry="13"/></g>
<g id="s103"><ellipse class="t" cx="100" cy="565" rx="16" ry="12"/></g>
<g id="s104"><ellipse class="e" cx="32" cy="583" rx="9" ry="6"/></g>
<g id="s105"><ellipse class="k" cx="60" cy="595" rx="14" ry="9"/></g>
<g id="s106"><ellipse class="k" cx="97" cy="595" rx="14" ry="10"/></g>
<g id="s107"><ellipse class="k b" cx="227" cy="592" rx="12" ry="12"/></g>
<g id="s108"><ellipse class="k" cx="353" cy="590" rx="12" ry="12"/></g>
<g id="s109"><ellipse class="k" cx="38" cy="617" rx="11" ry="6"/></g>
<g id="s110"><ellipse class="e b" cx="72" cy="622" rx="15" ry="13"/></g>
<g id="s111"><ellipse class="r" cx="267" cy="623" rx="13" ry="10"/></g>
<g id="s112"><ellipse class="r b" cx="298" cy="633" rx="12" ry="9"/></g>
<g id="s113"><ellipse class="r b" cx="273" cy="663" rx="13" ry="9"/></g>
<g id="s114"><ellipse class="r b" cx="325" cy="663" rx="13" ry="9"/></g>
<g id="s115"><ellipse class="t" cx="28" cy="640" rx="9" ry="6"/></g>
<g id="s116"><ellipse class="p" cx="23" cy="662" rx="10" ry="7"/></g>
<g id="s117"><ellipse class="k" cx="57" cy="652" rx="12" ry="11"/></g>
<g id="s118"><ellipse class="e" cx="52" cy="675" rx="12" ry="6"/></g>
<g id="s119"><ellipse class="e" cx="52" cy="697" rx="12" ry="7"/></g>
<g id="s120"><ellipse class="o b" cx="23" cy="685" rx="9" ry="8"/></g>
<g id="s121"><ellipse class="g" cx="185" cy="678" rx="15" ry="10"/></g>
<g id="s122"><ellipse class="g" cx="218" cy="675" rx="11" ry="7"/></g>
<g id="s123"><ellipse class="g" cx="206" cy="692" rx="12" ry="8"/></g>
<g id="s124"><ellipse class="k" cx="247" cy="700" rx="22" ry="11"/></g>
<g id="s125"><ellipse class="k" cx="287" cy="690" rx="16" ry="9"/></g>
<g id="s126"><ellipse class="k" cx="293" cy="710" rx="16" ry="9"/></g>
<g id="s127"><ellipse class="e" cx="328" cy="688" rx="12" ry="7"/></g>
<g id="s128"><ellipse class="k" cx="333" cy="712" rx="17" ry="11"/></g>
<g id="s129"><ellipse class="t" cx="13" cy="710" rx="9" ry="6"/></g>
<g id="s130"><ellipse class="o" cx="18" cy="732" rx="10" ry="6"/></g>
<g id="s131"><ellipse class="r" cx="47" cy="748" rx="11" ry="8"/></g>
<g id="s132"><ellipse class="k" cx="338" cy="758" rx="12" ry="9"/></g>
<g id="s133"><ellipse class="e" cx="38" cy="775" rx="11" ry="7"/></g>
<g id="s134"><ellipse class="k" cx="75" cy="785" rx="15" ry="12"/></g>
<g id="s135"><ellipse class="e" cx="208" cy="770" rx="11" ry="8"/></g>
<g id="s136"><ellipse class="e" cx="230" cy="772" rx="11" ry="7"/></g>
<g id="s137"><ellipse class="e" cx="253" cy="772" rx="11" ry="7"/></g>
<g id="s138"><ellipse class="e" cx="213" cy="792" rx="11" ry="8"/></g>
<g id="s139"><ellipse class="e" cx="247" cy="793" rx="11" ry="8"/></g>
<g id="s140"><ellipse class="k" cx="280" cy="780" rx="10" ry="7"/></g>
<g id="s141"><ellipse class="k" cx="322" cy="780" rx="9" ry="7"/></g>
<g id="s142"><ellipse class="k" cx="273" cy="815" rx="14" ry="10"/></g>
<g id="s143"><ellipse class="k" cx="303" cy="813" rx="11" ry="8"/></g>
<g id="s144"><ellipse class="k" cx="335" cy="815" rx="17" ry="11"/></g>
<g id="s145"><ellipse class="m b" cx="32" cy="798" rx="10" ry="7"/></g>
<g id="s146"><ellipse class="e" cx="32" cy="820" rx="9" ry="6"/></g>
<g id="s147"><ellipse class="k" cx="60" cy="813" rx="11" ry="9"/></g>
<g id="s148"><ellipse class="p" cx="230" cy="815" rx="18" ry="9"/></g>
<g id="s149"><ellipse class="o" cx="32" cy="842" rx="10" ry="6"/></g>
<g id="s150"><ellipse class="e" cx="62" cy="847" rx="13" ry="10"/></g>
<g id="s151"><ellipse class="k" cx="260" cy="862" rx="14" ry="10"/></g>
<g id="s152"><ellipse class="t" cx="312" cy="842" rx="16" ry="8"/></g>
<g id="s153"><ellipse class="t" cx="340" cy="842" rx="13" ry="8"/></g>
<g id="s154"><ellipse class="e" cx="38" cy="872" rx="10" ry="6"/></g>
<g id="s155"><ellipse class="e" cx="102" cy="863" rx="17" ry="12"/></g>
<g id="s156"><ellipse class="e" cx="199" cy="890" rx="15" ry="9"/></g>
<g id="s157"><ellipse class="e" cx="240" cy="890" rx="18" ry="12"/></g>
<g id="s158"><ellipse class="g" cx="38" cy="893" rx="11" ry="6"/></g>
<g id="s159"><ellipse class="t b" cx="73" cy="895" rx="15" ry="13"/></g>
<g id="s160"><ellipse class="g" cx="157" cy="913" rx="11" ry="7"/></g>
<g id="s161"><ellipse class="g" cx="182" cy="913" rx="10" ry="7"/></g>
<g id="s162"><ellipse class="g b" cx="158" cy="932" rx="12" ry="8"/></g>
<g id="s163"><ellipse class="g b" cx="183" cy="932" rx="12" ry="8"/></g>
<g id="s164"><ellipse class="t" cx="285" cy="903" rx="17" ry="10"/></g>
<g id="s165"><ellipse class="t" cx="323" cy="903" rx="16" ry="10"/></g>
<g id="s166"><ellipse class="e" cx="27" cy="917" rx="9" ry="6"/></g>
<g id="s167"><ellipse class="k b" cx="58" cy="927" rx="13" ry="12"/></g>
<g id="s168"><ellipse class="e b" cx="283" cy="932" rx="14" ry="10"/></g>
<g id="s169"><ellipse class="e b" cx="313" cy="932" rx="13" ry="9"/></g>
<g id="s170"><ellipse class="o" cx="23" cy="938" rx="9" ry="6"/></g>
<g id="s171"><ellipse class="k" cx="58" cy="953" rx="12" ry="8"/></g>
<g id="s172"><ellipse class="m" cx="137" cy="955" rx="13" ry="8"/></g>
<g id="s173"><ellipse class="m" cx="165" cy="955" rx="11" ry="8"/></g>
<g id="s174"><ellipse class="m b" cx="198" cy="958" rx="13" ry="8"/></g>
<g id="s175"><ellipse class="m" cx="227" cy="958" rx="12" ry="8"/></g>
<g id="s176"><ellipse class="m b" cx="317" cy="965" rx="13" ry="7"/></g>
<g id="s177"><ellipse class="m b" cx="343" cy="965" rx="11" ry="7"/></g>
<g id="s178"><ellipse class="e" cx="42" cy="977" rx="10" ry="6"/></g>
<g id="s179"><ellipse class="k" cx="77" cy="977" rx="13" ry="7"/></g>
<g id="s180"><ellipse class="o" cx="113" cy="977" rx="11" ry="7"/></g>
<g id="s181"><ellipse class="o" cx="137" cy="977" rx="11" ry="7"/></g>
<g id="s182"><ellipse class="e" cx="170" cy="982" rx="11" ry="6"/></g>
<g id="s183"><ellipse class="e" cx="193" cy="982" rx="11" ry="6"/></g>
<g id="s184"><ellipse class="k" cx="235" cy="995" rx="19" ry="13"/></g>
<g id="s185"><ellipse class="o" cx="280" cy="995" rx="17" ry="15"/></g>
<g id="s186"><ellipse class="g b" cx="22" cy="1000" rx="10" ry="7"/></g>
<g id="s187"><ellipse class="k" cx="52" cy="1000" rx="12" ry="7"/></g>
<g id="s188"><ellipse class="g" cx="177" cy="1005" rx="19" ry="12"/></g>
<g id="s189"><ellipse class="e" cx="25" cy="1022" rx="9" ry="6"/></g>
<g id="s190"><ellipse class="k" cx="53" cy="1032" rx="14" ry="9"/></g>
<g id="s191"><ellipse class="e" cx="98" cy="1032" rx="13" ry="8"/></g>
<g id="s192"><ellipse class="e b" cx="128" cy="1032" rx="12" ry="8"/></g>
<g id="s193"><ellipse class="g" cx="168" cy="1032" rx="15" ry="9"/></g>
<g id="s194"><ellipse class="k" cx="217" cy="1023" rx="14" ry="9"/></g>
<g id="s195"><ellipse class="k" cx="252" cy="1023" rx="13" ry="9"/></g>
<g id="s196"><ellipse class="k" cx="283" cy="1023" rx="11" ry="9"/></g>
<g id="s197"><ellipse class="k" cx="318" cy="1018" rx="16" ry="11"/></g>
<g id="s198"><ellipse class="m b" cx="315" cy="1043" rx="12" ry="7"/></g>
<g id="s199"><ellipse class="t" cx="33" cy="1055" rx="12" ry="7"/></g>
<g id="s200"><ellipse class="e" cx="68" cy="1055" rx="11" ry="7"/></g>
<g id="s201"><ellipse class="t" cx="98" cy="1055" rx="11" ry="7"/></g>
<g id="s202"><ellipse class="e" cx="130" cy="1055" rx="11" ry="7"/></g>
<g id="s203"><ellipse class="e" cx="160" cy="1055" rx="11" ry="7"/></g>
<g id="s204"><ellipse class="t" cx="207" cy="1047" rx="13" ry="7"/></g>
<g id="s205"><ellipse class="e" cx="240" cy="1047" rx="11" ry="7"/></g>
<g id="s206"><ellipse class="o b" cx="270" cy="1047" rx="11" ry="7"/></g>
<g id="s207"><ellipse class="t" cx="190" cy="1068" rx="10" ry="7"/></g>
<g id="s208"><ellipse class="t" cx="217" cy="1068" rx="10" ry="7"/></g>
<g id="s209"><ellipse class="o" cx="240" cy="1068" rx="10" ry="7"/></g>
<g id="s210"><ellipse class="o" cx="268" cy="1068" rx="10" ry="7"/></g>
<g id="s211"><ellipse class="g b" cx="300" cy="1063" rx="11" ry="7"/></g>
<g id="s212"><ellipse class="e" cx="350" cy="1060" rx="10" ry="7"/></g>
<g id="s213"><ellipse class="e" cx="353" cy="1013" rx="9" ry="7"/></g>
<g id="s214"><ellipse class="o" cx="434" cy="17" rx="9" ry="7"/></g>
<g id="s215"><ellipse class="g" cx="558" cy="18" rx="10" ry="7"/></g>
<g id="s216"><ellipse class="g" cx="584" cy="18" rx="9" ry="7"/></g>
<g id="s217"><ellipse class="e" cx="463" cy="27" rx="10" ry="7"/></g>
<g id="s218"><ellipse class="o" cx="493" cy="27" rx="10" ry="7"/></g>
<g id="s219"><ellipse class="o" cx="524" cy="27" rx="10" ry="7"/></g>
<g id="s220"><ellipse class="k" cx="384" cy="33" rx="11" ry="7"/></g>
<g id="s221"><ellipse class="e" cx="414" cy="40" rx="11" ry="7"/></g>
<g id="s222"><ellipse class="k" cx="613" cy="33" rx="11" ry="8"/></g>
<g id="s223"><ellipse class="k" cx="644" cy="33" rx="11" ry="8"/></g>
<g id="s224"><ellipse class="p b" cx="679" cy="33" rx="12" ry="8"/></g>
<g id="s225"><ellipse class="t" cx="706" cy="35" rx="12" ry="8"/></g>
<g id="s226"><ellipse class="t" cx="554" cy="40" rx="12" ry="8"/></g>
<g id="s227"><ellipse class="o" cx="373" cy="58" rx="13" ry="9"/></g>
<g id="s228"><ellipse class="k" cx="446" cy="50" rx="13" ry="9"/></g>
<g id="s229"><ellipse class="p" cx="484" cy="52" rx="13" ry="9"/></g>
<g id="s230"><ellipse class="e" cx="518" cy="52" rx="13" ry="10"/></g>
<g id="s231"><ellipse class="e" cx="555" cy="63" rx="15" ry="9"/></g>
<g id="s232"><ellipse class="e" cx="596" cy="62" rx="17" ry="10"/></g>
<g id="s233"><ellipse class="k" cx="659" cy="60" rx="14" ry="9"/></g>
<g id="s234"><ellipse class="k" cx="698" cy="60" rx="14" ry="9"/></g>
<g id="s235"><ellipse class="k" cx="640" cy="87" rx="18" ry="11"/></g>
<g id="s236"><ellipse class="k" cx="690" cy="88" rx="19" ry="11"/></g>
<g id="s237"><ellipse class="p" cx="379" cy="137" rx="11" ry="7"/></g>
<g id="s238"><ellipse class="p" cx="405" cy="137" rx="11" ry="7"/></g>
<g id="s239"><ellipse class="p" cx="379" cy="157" rx="11" ry="7"/></g>
<g id="s240"><ellipse class="k" cx="404" cy="157" rx="11" ry="7"/></g>
<g id="s241"><ellipse class="k" cx="506" cy="172" rx="14" ry="8"/></g>
<g id="s242"><ellipse class="k" cx="543" cy="172" rx="17" ry="9"/></g>
<g id="s243"><ellipse class="e" cx="594" cy="162" rx="15" ry="8"/></g>
<g id="s244"><ellipse class="e" cx="623" cy="153" rx="12" ry="6"/></g>
<g id="s245"><ellipse class="e" cx="619" cy="172" rx="13" ry="6"/></g>
<g id="s246"><ellipse class="g" cx="659" cy="168" rx="14" ry="8"/></g>
<g id="s247"><ellipse class="g" cx="693" cy="175" rx="15" ry="8"/></g>
<g id="s248"><ellipse class="g" cx="666" cy="187" rx="13" ry="7"/></g>
<g id="s249"><ellipse class="k" cx="594" cy="128" rx="12" ry="12"/></g>
<g id="s250"><ellipse class="e" cx="663" cy="219" rx="9" ry="6"/></g>
<g id="s251"><ellipse class="k" cx="706" cy="200" rx="16" ry="10"/></g>
<g id="s252"><ellipse class="k b" cx="695" cy="229" rx="14" ry="8"/></g>
<g id="s253"><ellipse class="k b" cx="669" cy="247" rx="14" ry="8"/></g>
<g id="s254"><ellipse class="k b" cx="701" cy="257" rx="13" ry="7"/></g>
<g id="s255"><ellipse class="k" cx="714" cy="247" rx="9" ry="7"/></g>
<g id="s256"><ellipse class="t" cx="654" cy="305" rx="13" ry="7"/></g>
<g id="s257"><ellipse class="t" cx="668" cy="330" rx="15" ry="8"/></g>
<g id="s258"><ellipse class="t" cx="698" cy="318" rx="13" ry="7"/></g>
<g id="s259"><ellipse class="t" cx="698" cy="340" rx="12" ry="7"/></g>
<g id="s260"><ellipse class="t" cx="716" cy="330" rx="9" ry="7"/></g>
<g id="s261"><ellipse class="k b" cx="504" cy="328" rx="13" ry="11"/></g>
<g id="s262"><ellipse class="t" cx="601" cy="385" rx="13" ry="7"/></g>
<g id="s263"><ellipse class="e" cx="384" cy="378" rx="10" ry="8"/></g>
<g id="s264"><ellipse class="e" cx="421" cy="373" rx="10" ry="8"/></g>
<g id="s265"><ellipse class="t" cx="398" cy="407" rx="15" ry="10"/></g>
<g id="s266"><ellipse class="k" cx="537" cy="413" rx="10" ry="8"/></g>
<g id="s267"><ellipse class="k" cx="582" cy="410" rx="17" ry="12"/></g>
<g id="s268"><ellipse class="o" cx="670" cy="398" rx="11" ry="7"/></g>
<g id="s269"><ellipse class="k" cx="630" cy="413" rx="15" ry="9"/></g>
<g id="s270"><ellipse class="k" cx="709" cy="417" rx="14" ry="10"/></g>
<g id="s271"><ellipse class="k" cx="363" cy="422" rx="8" ry="10"/></g>
<g id="s272"><ellipse class="k" cx="434" cy="455" rx="22" ry="13"/></g>
<g id="s273"><ellipse class="k" cx="388" cy="460" rx="19" ry="11"/></g>
<g id="s274"><ellipse class="k" cx="483" cy="452" rx="16" ry="11"/></g>
<g id="s275"><ellipse class="k" cx="477" cy="477" rx="12" ry="8"/></g>
<g id="s276"><ellipse class="k" cx="519" cy="482" rx="14" ry="8"/></g>
<g id="s277"><ellipse class="k" cx="561" cy="480" rx="15" ry="9"/></g>
<g id="s278"><ellipse class="k" cx="427" cy="488" rx="16" ry="9"/></g>
<g id="s279"><ellipse class="k" cx="615" cy="480" rx="12" ry="8"/></g>
<g id="s280"><ellipse class="k" cx="408" cy="515" rx="12" ry="9"/></g>
<g id="s281"><ellipse class="k" cx="481" cy="527" rx="11" ry="8"/></g>
<g id="s282"><ellipse class="k" cx="531" cy="528" rx="11" ry="8"/></g>
<g id="s283"><ellipse class="k" cx="574" cy="527" rx="7" ry="9"/></g>
<g id="s284"><ellipse class="k" cx="549" cy="572" rx="9" ry="7"/></g>
<g id="s285"><ellipse class="k" cx="470" cy="573" rx="14" ry="9"/></g>
<g id="s286"><ellipse class="k" cx="510" cy="570" rx="11" ry="9"/></g>
<g id="s287"><ellipse class="k" cx="600" cy="570" rx="15" ry="11"/></g>
<g id="s288"><ellipse class="k" cx="484" cy="623" rx="10" ry="9"/></g>
<g id="s289"><ellipse class="e b" cx="693" cy="578" rx="17" ry="12"/></g>
<g id="s290"><ellipse class="e" cx="397" cy="582" rx="14" ry="7"/></g>
<g id="s291"><ellipse class="e" cx="427" cy="582" rx="14" ry="7"/></g>
<g id="s292"><ellipse class="m b" cx="563" cy="592" rx="8" ry="6"/></g>
<g id="s293"><ellipse class="e" cx="606" cy="597" rx="9" ry="6"/></g>
<g id="s294"><ellipse class="k b" cx="709" cy="607" rx="12" ry="8"/></g>
<g id="s295"><ellipse class="k" cx="578" cy="620" rx="16" ry="12"/></g>
<g id="s296"><ellipse class="k b" cx="464" cy="648" rx="10" ry="7"/></g>
<g id="s297"><ellipse class="e" cx="528" cy="650" rx="9" ry="6"/></g>
<g id="s298"><ellipse class="e" cx="549" cy="648" rx="9" ry="6"/></g>
<g id="s299"><ellipse class="g" cx="618" cy="662" rx="13" ry="7"/></g>
<g id="s300"><ellipse class="e b" cx="693" cy="652" rx="12" ry="8"/></g>
<g id="s301"><ellipse class="m b" cx="501" cy="665" rx="8" ry="6"/></g>
<g id="s302"><ellipse class="m" cx="663" cy="670" rx="9" ry="6"/></g>
<g id="s303"><ellipse class="k b" cx="505" cy="688" rx="14" ry="10"/></g>
<g id="s304"><ellipse class="g" cx="887" cy="18" rx="10" ry="7"/></g>
<g id="s305"><ellipse class="g" cx="915" cy="18" rx="10" ry="7"/></g>
<g id="s306"><ellipse class="p" cx="940" cy="18" rx="11" ry="7"/></g>
<g id="s307"><ellipse class="e" cx="974" cy="23" rx="10" ry="7"/></g>
<g id="s308"><ellipse class="m b" cx="1004" cy="27" rx="10" ry="7"/></g>
<g id="s309"><ellipse class="p" cx="1032" cy="27" rx="11" ry="7"/></g>
<g id="s310"><ellipse class="e" cx="1062" cy="27" rx="10" ry="7"/></g>
<g id="s311"><ellipse class="e b" cx="741" cy="35" rx="11" ry="9"/></g>
<g id="s312"><ellipse class="p" cx="775" cy="38" rx="13" ry="9"/></g>
<g id="s313"><ellipse class="e" cx="810" cy="35" rx="13" ry="8"/></g>
<g id="s314"><ellipse class="g" cx="840" cy="35" rx="12" ry="8"/></g>
<g id="s315"><ellipse class="m b" cx="872" cy="42" rx="12" ry="8"/></g>
<g id="s316"><ellipse class="o" cx="907" cy="43" rx="12" ry="8"/></g>
<g id="s317"><ellipse class="k" cx="944" cy="42" rx="10" ry="7"/></g>
<g id="s318"><ellipse class="e" cx="971" cy="47" rx="10" ry="7"/></g>
<g id="s319"><ellipse class="e" cx="1007" cy="52" rx="10" ry="7"/></g>
<g id="s320"><ellipse class="o b" cx="1038" cy="52" rx="11" ry="8"/></g>
<g id="s321"><ellipse class="m b" cx="1070" cy="53" rx="10" ry="7"/></g>
<g id="s322"><ellipse class="g b" cx="734" cy="62" rx="13" ry="8"/></g>
<g id="s323"><ellipse class="k" cx="776" cy="63" rx="13" ry="12"/></g>
<g id="s324"><ellipse class="o" cx="1012" cy="80" rx="17" ry="12"/></g>
<g id="s325"><ellipse class="m" cx="1054" cy="75" rx="10" ry="7"/></g>
<g id="s326"><ellipse class="r b" cx="1057" cy="100" rx="10" ry="7"/></g>
<g id="s327"><ellipse class="k" cx="750" cy="128" rx="12" ry="8"/></g>
<g id="s328"><ellipse class="k" cx="775" cy="128" rx="12" ry="8"/></g>
<g id="s329"><ellipse class="k" cx="1025" cy="128" rx="15" ry="11"/></g>
<g id="s330"><ellipse class="e" cx="1064" cy="123" rx="10" ry="6"/></g>
<g id="s331"><ellipse class="k" cx="999" cy="158" rx="20" ry="11"/></g>
<g id="s332"><ellipse class="k" cx="1064" cy="143" rx="10" ry="7"/></g>
<g id="s333"><ellipse class="k" cx="734" cy="162" rx="12" ry="9"/></g>
<g id="s334"><ellipse class="k" cx="759" cy="155" rx="11" ry="7"/></g>
<g id="s335"><ellipse class="k" cx="755" cy="177" rx="11" ry="7"/></g>
<g id="s336"><ellipse class="k" cx="1044" cy="168" rx="12" ry="8"/></g>
<g id="s337"><ellipse class="k b" cx="965" cy="190" rx="15" ry="10"/></g>
<g id="s338"><ellipse class="k" cx="1062" cy="200" rx="17" ry="12"/></g>
<g id="s339"><ellipse class="p b" cx="1017" cy="207" rx="13" ry="11"/></g>
<g id="s340"><ellipse class="k" cx="753" cy="202" rx="15" ry="10"/></g>
<g id="s341"><ellipse class="o b" cx="1043" cy="233" rx="11" ry="9"/></g>
<g id="s342"><ellipse class="k b" cx="730" cy="240" rx="10" ry="9"/></g>
<g id="s343"><ellipse class="e" cx="754" cy="285" rx="13" ry="10"/></g>
<g id="s344"><ellipse class="e" cx="779" cy="285" rx="9" ry="7"/></g>
<g id="s345"><ellipse class="k" cx="1017" cy="308" rx="17" ry="12"/></g>
<g id="s346"><ellipse class="e" cx="1054" cy="322" rx="10" ry="7"/></g>
<g id="s347"><ellipse class="t" cx="722" cy="325" rx="8" ry="7"/></g>
<g id="s348"><ellipse class="p b" cx="1054" cy="347" rx="10" ry="9"/></g>
<g id="s349"><ellipse class="k" cx="939" cy="352" rx="15" ry="8"/></g>
<g id="s350"><ellipse class="k" cx="970" cy="352" rx="14" ry="8"/></g>
<g id="s351"><ellipse class="e" cx="977" cy="417" rx="12" ry="7"/></g>
<g id="s352"><ellipse class="e" cx="1004" cy="417" rx="12" ry="7"/></g>
<g id="s353"><ellipse class="o b" cx="1040" cy="415" rx="13" ry="8"/></g>
<g id="s354"><ellipse class="g" cx="1074" cy="423" rx="9" ry="8"/></g>
<g id="s355"><ellipse class="k b" cx="867" cy="440" rx="15" ry="10"/></g>
<g id="s356"><ellipse class="k" cx="1030" cy="445" rx="13" ry="11"/></g>
<g id="s357"><ellipse class="r b" cx="1064" cy="448" rx="11" ry="7"/></g>
<g id="s358"><ellipse class="k" cx="742" cy="490" rx="16" ry="8"/></g>
<g id="s359"><ellipse class="k" cx="769" cy="490" rx="16" ry="8"/></g>
<g id="s360"><ellipse class="o" cx="804" cy="490" rx="8" ry="7"/></g>
<g id="s361"><ellipse class="k" cx="915" cy="478" rx="16" ry="10"/></g>
<g id="s362"><ellipse class="k" cx="944" cy="472" rx="12" ry="7"/></g>
<g id="s363"><ellipse class="k" cx="940" cy="491" rx="12" ry="7"/></g>
<g id="s364"><ellipse class="k" cx="1032" cy="470" rx="15" ry="10"/></g>
<g id="s365"><ellipse class="g b" cx="1064" cy="482" rx="8" ry="8"/></g>
<g id="s366"><ellipse class="k" cx="1028" cy="498" rx="13" ry="11"/></g>
<g id="s367"><ellipse class="e" cx="1064" cy="503" rx="10" ry="7"/></g>
<g id="s368"><ellipse class="e b" cx="914" cy="520" rx="13" ry="9"/></g>
<g id="s369"><ellipse class="e b" cx="942" cy="513" rx="13" ry="9"/></g>
<g id="s370"><ellipse class="e b" cx="935" cy="533" rx="13" ry="8"/></g>
<g id="s371"><ellipse class="k" cx="1029" cy="530" rx="13" ry="11"/></g>
<g id="s372"><ellipse class="e b" cx="1062" cy="525" rx="10" ry="8"/></g>
<g id="s373"><ellipse class="e" cx="1064" cy="548" rx="10" ry="7"/></g>
<g id="s374"><ellipse class="e b" cx="739" cy="582" rx="16" ry="12"/></g>
<g id="s375"><ellipse class="e b" cx="800" cy="572" rx="18" ry="12"/></g>
<g id="s376"><ellipse class="e b" cx="872" cy="578" rx="19" ry="13"/></g>
<g id="s377"><ellipse class="e b" cx="769" cy="608" rx="18" ry="13"/></g>
<g id="s378"><ellipse class="e b" cx="802" cy="618" rx="19" ry="13"/></g>
<g id="s379"><ellipse class="e b" cx="840" cy="608" rx="19" ry="13"/></g>
<g id="s380"><ellipse class="e b" cx="737" cy="645" rx="17" ry="13"/></g>
<g id="s381"><ellipse class="e b" cx="777" cy="655" rx="19" ry="13"/></g>
<g id="s382"><ellipse class="e b" cx="829" cy="655" rx="18" ry="13"/></g>
<g id="s383"><ellipse class="e b" cx="874" cy="645" rx="20" ry="13"/></g>
<g id="s384"><ellipse class="e" cx="910" cy="570" rx="15" ry="12"/></g>
<g id="s385"><ellipse class="e" cx="945" cy="560" rx="11" ry="9"/></g>
<g id="s386"><ellipse class="e" cx="940" cy="587" rx="12" ry="9"/></g>
<g id="s387"><ellipse class="o" cx="1032" cy="570" rx="15" ry="11"/></g>
<g id="s388"><ellipse class="k" cx="1027" cy="600" rx="14" ry="11"/></g>
<g id="s389"><ellipse class="e" cx="1064" cy="583" rx="10" ry="7"/></g>
<g id="s390"><ellipse class="e" cx="1064" cy="605" rx="10" ry="7"/></g>
<g id="s391"><ellipse class="k" cx="885" cy="615" rx="18" ry="11"/></g>
<g id="s392"><ellipse class="g" cx="1027" cy="632" rx="16" ry="13"/></g>
<g id="s393"><ellipse class="e" cx="1064" cy="627" rx="10" ry="7"/></g>
<g id="s394"><ellipse class="p" cx="984" cy="657" rx="10" ry="7"/></g>
<g id="s395"><ellipse class="p" cx="1002" cy="657" rx="10" ry="7"/></g>
<g id="s396"><ellipse class="e" cx="1035" cy="673" rx="13" ry="9"/></g>
<g id="s397"><ellipse class="k" cx="1065" cy="672" rx="9" ry="7"/></g>
<g id="s398"><ellipse class="e" cx="1064" cy="648" rx="10" ry="7"/></g>
<g id="s399"><ellipse class="e" cx="1064" cy="713" rx="10" ry="7"/></g>
<g id="s400"><ellipse class="k" cx="747" cy="690" rx="14" ry="8"/></g>
<g id="s401"><ellipse class="k" cx="775" cy="690" rx="14" ry="8"/></g>
<g id="s402"><ellipse class="k" cx="832" cy="713" rx="18" ry="11"/></g>
<g id="s403"><ellipse class="k" cx="379" cy="758" rx="15" ry="11"/></g>
<g id="s404"><ellipse class="k" cx="414" cy="757" rx="14" ry="10"/></g>
<g id="s405"><ellipse class="k" cx="478" cy="843" rx="20" ry="12"/></g>
<g id="s406"><ellipse class="k" cx="524" cy="843" rx="20" ry="12"/></g>
<g id="s407"><ellipse class="e" cx="568" cy="838" rx="9" ry="7"/></g>
<g id="s408"><ellipse class="m b" cx="540" cy="867" rx="9" ry="7"/></g>
<g id="s409"><ellipse class="e" cx="661" cy="863" rx="20" ry="10"/></g>
<g id="s410"><ellipse class="p" cx="540" cy="888" rx="8" ry="6"/></g>
<g id="s411"><ellipse class="k" cx="380" cy="900" rx="16" ry="10"/></g>
<g id="s412"><ellipse class="k" cx="421" cy="900" rx="16" ry="10"/></g>
<g id="s413"><ellipse class="k b" cx="658" cy="893" rx="17" ry="11"/></g>
<g id="s414"><ellipse class="k b" cx="696" cy="893" rx="15" ry="10"/></g>
<g id="s415"><ellipse class="r b" cx="458" cy="913" rx="16" ry="11"/></g>
<g id="s416"><ellipse class="r" cx="492" cy="913" rx="15" ry="11"/></g>
<g id="s417"><ellipse class="k" cx="421" cy="940" rx="13" ry="8"/></g>
<g id="s418"><ellipse class="k" cx="454" cy="940" rx="13" ry="8"/></g>
<g id="s419"><ellipse class="k" cx="549" cy="950" rx="14" ry="9"/></g>
<g id="s420"><ellipse class="k" cx="581" cy="950" rx="14" ry="9"/></g>
<g id="s421"><ellipse class="k" cx="377" cy="963" rx="12" ry="8"/></g>
<g id="s422"><ellipse class="k" cx="404" cy="963" rx="12" ry="8"/></g>
<g id="s423"><ellipse class="k" cx="549" cy="973" rx="12" ry="7"/></g>
<g id="s424"><ellipse class="k" cx="574" cy="973" rx="12" ry="7"/></g>
<g id="s425"><ellipse class="k b" cx="628" cy="968" rx="22" ry="13"/></g>
<g id="s426"><ellipse class="g" cx="716" cy="977" rx="9" ry="8"/></g>
<g id="s427"><ellipse class="k" cx="374" cy="987" rx="16" ry="10"/></g>
<g id="s428"><ellipse class="r b" cx="408" cy="995" rx="10" ry="8"/></g>
<g id="s429"><ellipse class="r" cx="431" cy="995" rx="10" ry="8"/></g>
<g id="s430"><ellipse class="o" cx="509" cy="1007" rx="18" ry="10"/></g>
<g id="s431"><ellipse class="k" cx="596" cy="1000" rx="17" ry="12"/></g>
<g id="s432"><ellipse class="t" cx="634" cy="1000" rx="10" ry="8"/></g>
<g id="s433"><ellipse class="t" cx="656" cy="1000" rx="9" ry="8"/></g>
<g id="s434"><ellipse class="o b" cx="714" cy="997" rx="8" ry="8"/></g>
<g id="s435"><ellipse class="e b" cx="373" cy="1013" rx="15" ry="10"/></g>
<g id="s436"><ellipse class="g" cx="411" cy="1018" rx="14" ry="11"/></g>
<g id="s437"><ellipse class="o" cx="504" cy="1032" rx="14" ry="9"/></g>
<g id="s438"><ellipse class="k" cx="549" cy="1027" rx="13" ry="10"/></g>
<g id="s439"><ellipse class="t b" cx="588" cy="1025" rx="14" ry="10"/></g>
<g id="s440"><ellipse class="o b" cx="637" cy="1022" rx="13" ry="10"/></g>
<g id="s441"><ellipse class="g" cx="694" cy="1017" rx="20" ry="12"/></g>
<g id="s442"><ellipse class="e" cx="363" cy="1040" rx="8" ry="7"/></g>
<g id="s443"><ellipse class="o" cx="393" cy="1043" rx="10" ry="7"/></g>
<g id="s444"><ellipse class="e b" cx="448" cy="1033" rx="12" ry="7"/></g>
<g id="s445"><ellipse class="k" cx="669" cy="1042" rx="11" ry="7"/></g>
<g id="s446"><ellipse class="m b" cx="701" cy="1043" rx="12" ry="7"/></g>
<g id="s447"><ellipse class="e" cx="424" cy="1057" rx="11" ry="6"/></g>
<g id="s448"><ellipse class="k" cx="456" cy="1057" rx="12" ry="7"/></g>
<g id="s449"><ellipse class="t" cx="489" cy="1057" rx="10" ry="7"/></g>
<g id="s450"><ellipse class="e" cx="518" cy="1057" rx="9" ry="7"/></g>
<g id="s451"><ellipse class="o" cx="546" cy="1052" rx="10" ry="7"/></g>
<g id="s452"><ellipse class="e" cx="578" cy="1052" rx="11" ry="7"/></g>
<g id="s453"><ellipse class="e" cx="626" cy="1048" rx="11" ry="7"/></g>
<g id="s454"><ellipse class="k" cx="378" cy="1065" rx="9" ry="6"/></g>
<g id="s455"><ellipse class="t" cx="541" cy="1072" rx="9" ry="6"/></g>
<g id="s456"><ellipse class="e" cx="571" cy="1073" rx="8" ry="6"/></g>
<g id="s457"><ellipse class="k" cx="606" cy="1068" rx="9" ry="6"/></g>
<g id="s458"><ellipse class="g" cx="656" cy="1065" rx="10" ry="7"/></g>
<g id="s459"><ellipse class="e" cx="686" cy="1065" rx="10" ry="7"/></g>
<g id="s460"><ellipse class="m" cx="713" cy="1065" rx="9" ry="7"/></g>
<g id="s461"><ellipse class="k" cx="935" cy="725" rx="13" ry="8"/></g>
<g id="s462"><ellipse class="k" cx="965" cy="725" rx="13" ry="8"/></g>
<g id="s463"><ellipse class="k" cx="1007" cy="735" rx="19" ry="13"/></g>
<g id="s464"><ellipse class="k" cx="1047" cy="738" rx="12" ry="8"/></g>
<g id="s465"><ellipse class="k" cx="929" cy="753" rx="15" ry="9"/></g>
<g id="s466"><ellipse class="t" cx="1027" cy="762" rx="13" ry="8"/></g>
<g id="s467"><ellipse class="t" cx="1059" cy="762" rx="12" ry="8"/></g>
<g id="s468"><ellipse class="e" cx="937" cy="775" rx="10" ry="7"/></g>
<g id="s469"><ellipse class="k" cx="906" cy="787" rx="13" ry="10"/></g>
<g id="s470"><ellipse class="k" cx="904" cy="813" rx="13" ry="10"/></g>
<g id="s471"><ellipse class="k" cx="1067" cy="792" rx="10" ry="8"/></g>
<g id="s472"><ellipse class="e" cx="1042" cy="817" rx="12" ry="7"/></g>
<g id="s473"><ellipse class="k" cx="1044" cy="838" rx="12" ry="8"/></g>
<g id="s474"><ellipse class="m b" cx="1074" cy="850" rx="9" ry="7"/></g>
<g id="s475"><ellipse class="e" cx="840" cy="868" rx="11" ry="7"/></g>
<g id="s476"><ellipse class="g" cx="1055" cy="875" rx="12" ry="8"/></g>
<g id="s477"><ellipse class="o" cx="735" cy="890" rx="13" ry="7"/></g>
<g id="s478"><ellipse class="e" cx="980" cy="898" rx="11" ry="7"/></g>
<g id="s479"><ellipse class="e" cx="1002" cy="898" rx="11" ry="7"/></g>
<g id="s480"><ellipse class="e" cx="1035" cy="898" rx="14" ry="9"/></g>
<g id="s481"><ellipse class="k" cx="1067" cy="898" rx="10" ry="8"/></g>
<g id="s482"><ellipse class="k" cx="735" cy="913" rx="13" ry="8"/></g>
<g id="s483"><ellipse class="k" cx="769" cy="913" rx="13" ry="8"/></g>
<g id="s484"><ellipse class="o b" cx="1030" cy="923" rx="14" ry="11"/></g>
<g id="s485"><ellipse class="o" cx="1064" cy="920" rx="11" ry="7"/></g>
<g id="s486"><ellipse class="k" cx="921" cy="938" rx="13" ry="11"/></g>
<g id="s487"><ellipse class="k" cx="950" cy="938" rx="13" ry="11"/></g>
<g id="s488"><ellipse class="e" cx="1064" cy="942" rx="11" ry="7"/></g>
<g id="s489"><ellipse class="k" cx="793" cy="963" rx="12" ry="8"/></g>
<g id="s490"><ellipse class="k" cx="822" cy="963" rx="12" ry="8"/></g>
<g id="s491"><ellipse class="e" cx="857" cy="968" rx="13" ry="8"/></g>
<g id="s492"><ellipse class="e" cx="881" cy="968" rx="12" ry="8"/></g>
<g id="s493"><ellipse class="g" cx="725" cy="972" rx="11" ry="8"/></g>
<g id="s494"><ellipse class="g" cx="752" cy="972" rx="12" ry="8"/></g>
<g id="s495"><ellipse class="g" cx="1032" cy="955" rx="15" ry="12"/></g>
<g id="s496"><ellipse class="g" cx="1064" cy="965" rx="11" ry="7"/></g>
<g id="s497"><ellipse class="g" cx="784" cy="987" rx="12" ry="8"/></g>
<g id="s498"><ellipse class="g" cx="808" cy="987" rx="11" ry="8"/></g>
<g id="s499"><ellipse class="g" cx="850" cy="992" rx="20" ry="12"/></g>
<g id="s500"><ellipse class="k" cx="889" cy="995" rx="12" ry="7"/></g>
<g id="s501"><ellipse class="k" cx="910" cy="995" rx="10" ry="7"/></g>
<g id="s502"><ellipse class="e b" cx="942" cy="1002" rx="15" ry="14"/></g>
<g id="s503"><ellipse class="e" cx="1034" cy="983" rx="14" ry="13"/></g>
<g id="s504"><ellipse class="g" cx="1064" cy="988" rx="11" ry="8"/></g>
<g id="s505"><ellipse class="o b" cx="727" cy="995" rx="9" ry="7"/></g>
<g id="s506"><ellipse class="o b" cx="745" cy="995" rx="9" ry="7"/></g>
<g id="s507"><ellipse class="t b" cx="742" cy="1018" rx="17" ry="10"/></g>
<g id="s508"><ellipse class="t" cx="820" cy="1017" rx="17" ry="12"/></g>
<g id="s509"><ellipse class="p" cx="857" cy="1017" rx="15" ry="12"/></g>
<g id="s510"><ellipse class="k" cx="890" cy="1017" rx="15" ry="10"/></g>
<g id="s511"><ellipse class="g" cx="1025" cy="1018" rx="17" ry="15"/></g>
<g id="s512"><ellipse class="m" cx="1065" cy="1020" rx="10" ry="8"/></g>
<g id="s513"><ellipse class="e b" cx="940" cy="1032" rx="15" ry="10"/></g>
<g id="s514"><ellipse class="t" cx="980" cy="1033" rx="15" ry="9"/></g>
<g id="s515"><ellipse class="e" cx="735" cy="1042" rx="11" ry="7"/></g>
<g id="s516"><ellipse class="t" cx="772" cy="1040" rx="12" ry="7"/></g>
<g id="s517"><ellipse class="m" cx="810" cy="1043" rx="12" ry="7"/></g>
<g id="s518"><ellipse class="g" cx="840" cy="1043" rx="11" ry="7"/></g>
<g id="s519"><ellipse class="k" cx="872" cy="1042" rx="12" ry="7"/></g>
<g id="s520"><ellipse class="t" cx="905" cy="1042" rx="12" ry="7"/></g>
<g id="s521"><ellipse class="o" cx="1017" cy="1045" rx="13" ry="8"/></g>
<g id="s522"><ellipse class="o" cx="1052" cy="1045" rx="13" ry="8"/></g>
<g id="s523"><ellipse class="t" cx="765" cy="1060" rx="11" ry="7"/></g>
<g id="s524"><ellipse class="e" cx="795" cy="1065" rx="10" ry="6"/></g>
<g id="s525"><ellipse class="g" cx="825" cy="1065" rx="10" ry="6"/></g>
<g id="s526"><ellipse class="g" cx="857" cy="1065" rx="10" ry="6"/></g>
<g id="s527"><ellipse class="e" cx="887" cy="1065" rx="10" ry="6"/></g>
<g id="s528"><ellipse class="g" cx="939" cy="1053" rx="15" ry="9"/></g>
<g id="s529"><ellipse class="e b" cx="974" cy="1057" rx="14" ry="8"/></g>
<g id="s530"><ellipse class="g" cx="1005" cy="1070" rx="10" ry="7"/></g>
<g id="s531"><ellipse class="g" cx="1030" cy="1070" rx="10" ry="7"/></g>
<g id="s532"><ellipse class="m" cx="1062" cy="1070" rx="10" ry="7"/></g>
<g id="s533"><ellipse class="m" cx="722" cy="1065" rx="6" ry="7"/></g>
</g>
<g id="legend">
<rect x="55" y="1095" width="980" height="149" fill="none" stroke="#333" stroke-width="1" stroke-dasharray="2,2"/>
<g id="lg-kinase"><ellipse class="k" cx="115" cy="1147" rx="49" ry="20"/><text class="lg" x="115" y="1154" font-size="19" fill="#3a2a10">Kinase</text></g>
<g id="lg-enzyme"><ellipse class="e" cx="238" cy="1145" rx="48" ry="20"/><text class="lg" x="238" y="1152" font-size="18" style="fill:#7a0808">Enzyme</text></g>
<g id="lg-transporter"><ellipse class="t" cx="362" cy="1145" rx="48" ry="19"/><text class="lg" x="362" y="1150" font-size="13.5" style="fill:#253238">Transporter</text></g>
<g id="lg-nucleic"><ellipse class="n" cx="482" cy="1145" rx="49" ry="20"/><text class="lg" x="482" y="1143" font-size="15" style="fill:#0a3a0a"><tspan x="482">Nucleic</tspan><tspan x="482" dy="1.05em">Acid</tspan></text></g>
<g id="lg-other"><ellipse class="o" cx="600" cy="1143" rx="49" ry="20"/><text class="lg" x="600" y="1150" font-size="19" style="fill:#5a0a5a">Other</text></g>
<g id="lg-membrane"><ellipse class="m" cx="115" cy="1202" rx="49" ry="19"/><text class="lg" x="115" y="1198" font-size="12" style="fill:#1a3030"><tspan x="115">Membrane</tspan><tspan x="115" dy="1.15em">Protein</tspan></text></g>
<g id="lg-nuclear"><ellipse class="r" cx="238" cy="1202" rx="48" ry="19"/><text class="lg" x="238" y="1198" font-size="12" style="fill:#4a1a2a"><tspan x="238">Nuclear</tspan><tspan x="238" dy="1.15em">Receptor</tspan></text></g>
<g id="lg-gpcr"><ellipse class="g" cx="362" cy="1203" rx="48" ry="20"/><text class="lg" x="362" y="1211" font-size="22" style="fill:#4a0a0a">GPCR</text></g>
<g id="lg-nucleus"><ellipse class="p" cx="482" cy="1203" rx="49" ry="19"/><text class="lg" x="482" y="1199" font-size="12" style="fill:#4a2a30"><tspan x="482">Protein</tspan><tspan x="482" dy="1.15em">in Nucleus</tspan></text></g>
<text class="lg" x="762" y="1119" font-size="11" style="fill:#222">Edge thickness</text>
<polygon points="708,1126 807,1137 807,1140 708,1141" fill="url(#eg)"/>
<ellipse cx="687" cy="1133" rx="23" ry="17" fill="#fff" stroke="#222" stroke-width="1"/>
<ellipse cx="832" cy="1135" rx="24" ry="18" fill="#fff" stroke="#222" stroke-width="1"/>
<text class="lg" x="690" y="1173" font-size="14" style="fill:#222">100%</text>
<text class="lg" x="763" y="1167" font-size="11" style="fill:#222">Similarity</text>
<text class="lg" x="834" y="1174" font-size="14" style="fill:#222">65%</text>
<text class="lg" x="897" y="1144" font-size="7" style="fill:#222">A</text>
<text class="lg" x="907" y="1144" font-size="10" style="fill:#222">A</text>
<text class="lg" x="918" y="1144" font-size="13" style="fill:#222">A</text>
<text class="lg" x="934" y="1144" font-size="20" style="fill:#222">A</text>
<text class="lg" x="958" y="1144" font-size="29" style="fill:#222">A</text>
<text class="lg" x="997" y="1144" font-size="44" style="fill:#222">A</text>
<text class="lg" x="950" y="1165" font-size="11" style="fill:#222">Number of Drugs</text>
<text class="lg" x="950" y="1177" font-size="11" style="fill:#222">weighted by pAct</text>
<text class="lg" x="648" y="1197" font-size="11" style="fill:#222">Node outline thickness</text>
<polygon points="577,1200 722,1212 577,1213" fill="#1a1a1a"/>
<text class="lg" x="584" y="1230" font-size="14" style="fill:#222">12.5</text>
<text class="lg" x="648" y="1230" font-size="10" style="fill:#222">Max pAct</text>
<text class="lg" x="717" y="1230" font-size="14" style="fill:#222">4.0</text>
<text class="lg" x="892" y="1213" font-size="15" style="fill:#222">Distance between nodes:</text>
<text class="lg" x="892" y="1229" font-size="15" style="fill:#222">N shared GO terms + N shared drugs</text>
</g>
</svg>
